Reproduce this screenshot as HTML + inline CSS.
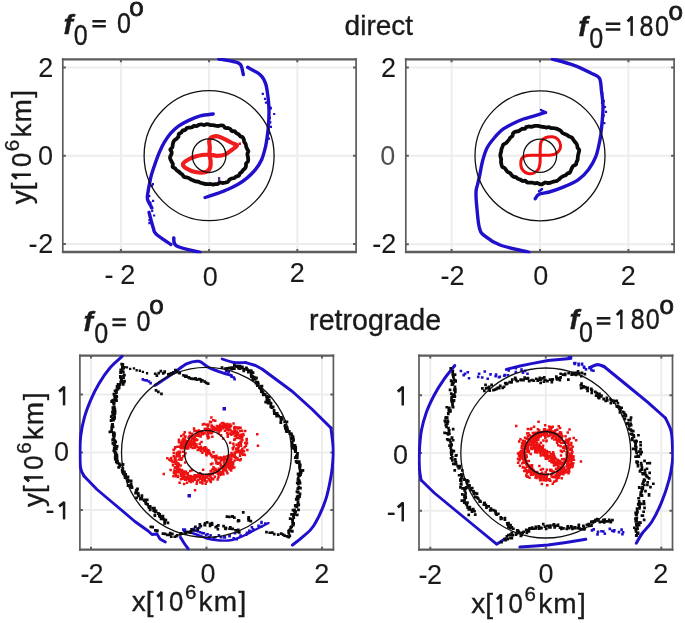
<!DOCTYPE html>
<html><head><meta charset="utf-8"><style>html,body{margin:0;padding:0;background:#fff;}svg{display:block;filter:blur(0.4px);}</style></head>
<body>
<svg width="685" height="623" viewBox="0 0 685 623">
<rect width="685" height="623" fill="#fff"/>
<path d="M120.9,59.3V252.0M209.1,59.3V252.0M297.3,59.3V252.0M62.8,243.9H356.1M62.8,155.7H356.1M62.8,67.5H356.1" stroke="#ededed" stroke-width="2" fill="none"/>
<path d="M62.8,58.2V253.1M356.1,58.2V253.1" stroke="#5c5c5c" stroke-width="1.7" fill="none"/>
<path d="M61.9,59.3H357.0M61.9,252.0H357.0" stroke="#5c5c5c" stroke-width="2.3" fill="none"/>
<path d="M120.9,59.3v3M120.9,252.0v-3M209.1,59.3v3M209.1,252.0v-3M297.3,59.3v3M297.3,252.0v-3M62.8,243.9h3M356.1,243.9h-3M62.8,155.7h3M356.1,155.7h-3M62.8,67.5h3M356.1,67.5h-3" stroke="#5c5c5c" stroke-width="2" fill="none"/>
<clipPath id="c0"><rect x="61.6" y="58.1" width="295.7" height="195.1"/></clipPath>
<g clip-path="url(#c0)">
<path d="M218.8,59.0 C221.2,59.4 229.6,60.6 233.2,61.5 C236.8,62.4 238.8,62.4 240.5,64.6 C242.2,66.8 242.8,72.8 243.3,74.5" fill="none" stroke="#2010cc" stroke-width="3.4" stroke-linejoin="round" stroke-linecap="round" />
<path d="M247.7,67.3 C249.9,68.6 257.7,72.4 260.7,75.2 C263.7,78.0 264.5,80.3 265.7,83.9 C266.9,87.5 267.4,92.6 268.0,96.9 C268.6,101.2 268.9,105.3 269.0,110.0 C269.1,114.7 268.8,120.8 268.5,125.0 C268.2,129.2 267.9,131.7 267.4,135.3 C266.9,138.9 266.5,142.7 265.5,146.8 C264.5,150.9 263.3,155.8 261.6,159.7 C259.9,163.5 257.6,166.9 255.2,169.9 C252.8,172.9 250.3,175.2 247.5,177.6 C244.7,179.9 241.7,182.1 238.5,184.0 C235.3,185.9 231.8,187.6 228.2,189.2 C224.6,190.8 220.5,192.3 216.7,193.7 C212.8,195.1 207.0,196.9 205.1,197.5" fill="none" stroke="#2010cc" stroke-width="3.4" stroke-linejoin="round" stroke-linecap="round" />
<path d="M213.2,114.0 C211.0,114.3 204.4,114.8 200.3,115.9 C196.2,117.0 192.4,118.7 188.8,120.4 C185.2,122.1 181.5,124.1 178.5,126.2 C175.5,128.3 173.2,130.5 170.8,133.2 C168.5,135.9 166.3,139.0 164.4,142.2 C162.5,145.4 160.8,149.1 159.3,152.5 C157.8,155.9 156.7,159.2 155.4,162.8 C154.1,166.4 152.6,170.9 151.6,174.3 C150.6,177.7 150.2,180.4 149.6,183.3 C149.0,186.2 148.3,189.3 148.0,192.0 C147.7,194.7 146.8,196.5 147.5,199.2 C148.2,201.9 151.2,206.5 151.9,208.0" fill="none" stroke="#2010cc" stroke-width="3.4" stroke-linejoin="round" stroke-linecap="round" />
<path d="M149.0,212.3 C149.7,215.0 152.2,224.8 153.4,228.4 C154.6,232.1 153.4,231.5 156.3,234.2 C159.2,236.9 168.5,242.8 170.9,244.5" fill="none" stroke="#2010cc" stroke-width="3.4" stroke-linejoin="round" stroke-linecap="round" />
<path d="M173.8,237.9 C174.3,239.2 172.3,243.5 176.7,245.9 C181.1,248.3 196.1,251.4 200.0,252.5" fill="none" stroke="#2010cc" stroke-width="3.4" stroke-linejoin="round" stroke-linecap="round" />
<path d="M261.7,92.7h2.2v2.2h-2.2zM263.9,97.7h2.2v2.2h-2.2zM264.9,101.5h2.2v2.2h-2.2zM269.1,106.2h2.2v2.2h-2.2zM269.8,107.2h2.2v2.2h-2.2zM273.1,112.9h2.2v2.2h-2.2zM268.8,116.8h2.2v2.2h-2.2zM269.2,121.3h2.2v2.2h-2.2zM269.8,125.7h2.2v2.2h-2.2zM266.9,130.4h2.2v2.2h-2.2zM268.1,132.0h2.2v2.2h-2.2zM267.8,137.6h2.2v2.2h-2.2z" fill="#2010cc"/>
<path d="M149.7,177.0h2.2v2.2h-2.2zM151.8,183.0h2.2v2.2h-2.2zM150.7,184.7h2.2v2.2h-2.2zM147.3,190.0h2.2v2.2h-2.2zM148.2,195.1h2.2v2.2h-2.2zM152.0,199.7h2.2v2.2h-2.2zM149.3,201.5h2.2v2.2h-2.2zM149.9,206.5h2.2v2.2h-2.2zM151.1,209.8h2.2v2.2h-2.2zM153.0,214.4h2.2v2.2h-2.2zM148.4,219.1h2.2v2.2h-2.2zM148.3,222.1h2.2v2.2h-2.2z" fill="#2010cc"/>
<path d="M208.2,124.4 C208.9,124.6 209.9,125.0 210.7,125.1 C211.5,125.2 212.4,125.0 213.2,125.1 C214.0,125.2 214.8,125.6 215.6,125.7 C216.5,125.9 217.3,126.1 218.1,126.0 C219.0,126.0 219.9,125.4 220.7,125.4 C221.6,125.3 222.6,125.3 223.3,125.7 C224.1,126.1 224.4,127.5 225.2,127.9 C225.9,128.3 227.0,127.9 227.8,128.0 C228.7,128.2 229.5,128.5 230.2,129.0 C230.8,129.5 231.2,130.7 232.0,131.1 C232.7,131.5 233.9,131.0 234.6,131.3 C235.3,131.6 235.7,132.6 236.4,133.1 C237.0,133.6 237.9,133.8 238.6,134.3 C239.2,134.8 239.6,135.7 240.2,136.2 C240.9,136.7 242.0,136.7 242.6,137.3 C243.2,137.8 243.5,138.8 243.8,139.5 C244.1,140.3 244.0,141.2 244.3,142.0 C244.6,142.7 245.3,143.4 245.7,144.1 C246.0,144.9 245.9,145.8 246.2,146.6 C246.4,147.4 246.8,148.1 247.1,148.9 C247.5,149.7 248.3,150.4 248.4,151.2 C248.4,152.1 247.5,153.0 247.4,153.8 C247.3,154.7 247.6,155.5 247.8,156.3 C247.9,157.1 248.1,158.0 248.2,158.8 C248.2,159.7 248.3,160.6 248.0,161.4 C247.6,162.2 246.4,162.7 246.1,163.5 C245.7,164.2 246.2,165.2 246.0,166.0 C245.9,166.8 245.5,167.6 245.1,168.3 C244.6,168.9 243.8,169.3 243.2,169.9 C242.7,170.5 242.3,171.3 241.8,171.9 C241.2,172.5 240.3,172.9 239.8,173.5 C239.3,174.2 239.3,175.4 238.7,175.9 C238.1,176.4 236.9,176.1 236.2,176.5 C235.4,176.8 234.9,177.8 234.2,178.1 C233.4,178.5 232.4,178.3 231.6,178.5 C230.8,178.8 230.0,179.2 229.4,179.7 C228.7,180.3 228.4,181.5 227.7,182.0 C226.9,182.5 226.0,182.4 225.2,182.6 C224.3,182.8 223.5,183.1 222.7,183.0 C221.8,183.0 220.8,182.3 220.0,182.5 C219.2,182.6 218.5,183.6 217.7,183.9 C217.0,184.1 216.1,184.0 215.3,184.1 C214.4,184.2 213.6,184.5 212.8,184.5 C211.9,184.5 211.1,184.1 210.3,184.0 C209.5,184.0 208.6,184.1 207.8,184.1 C206.9,184.1 206.1,184.1 205.3,184.0 C204.5,183.9 203.7,183.5 202.9,183.3 C202.0,183.1 201.2,183.0 200.4,182.7 C199.6,182.4 198.9,181.9 198.1,181.6 C197.3,181.4 196.4,181.6 195.6,181.4 C194.8,181.2 194.1,180.7 193.3,180.4 C192.6,180.1 191.8,179.9 191.1,179.6 C190.4,179.2 189.8,178.5 189.0,178.2 C188.3,177.8 187.5,177.6 186.6,177.4 C185.8,177.2 184.7,177.3 184.0,176.9 C183.3,176.4 183.0,175.3 182.4,174.7 C181.8,174.1 181.1,173.8 180.5,173.3 C179.9,172.7 179.4,172.1 178.7,171.6 C178.1,171.1 177.2,170.8 176.6,170.2 C176.0,169.7 175.6,168.8 175.0,168.3 C174.3,167.7 173.0,167.6 172.6,166.9 C172.3,166.3 173.0,165.0 172.9,164.2 C172.7,163.3 172.1,162.6 171.8,161.9 C171.4,161.1 170.9,160.4 170.6,159.6 C170.3,158.8 169.8,157.9 170.0,157.1 C170.1,156.3 171.0,155.4 171.3,154.6 C171.6,153.8 171.8,153.0 171.7,152.1 C171.5,151.2 170.2,150.2 170.3,149.4 C170.5,148.7 171.9,148.2 172.3,147.4 C172.7,146.7 172.6,145.7 172.7,144.9 C172.9,144.0 173.0,143.2 173.3,142.4 C173.6,141.6 174.0,140.8 174.6,140.2 C175.1,139.6 176.1,139.2 176.7,138.6 C177.3,138.1 178.0,137.5 178.4,136.8 C178.7,136.0 178.4,134.6 178.9,133.9 C179.3,133.3 180.6,133.3 181.2,132.7 C181.8,132.1 182.0,131.0 182.7,130.5 C183.4,130.1 184.6,130.4 185.3,129.9 C186.1,129.5 186.3,128.3 187.0,127.9 C187.7,127.6 188.7,127.7 189.5,127.6 C190.3,127.5 191.1,127.5 191.9,127.2 C192.7,126.9 193.4,126.1 194.2,125.9 C195.0,125.7 195.9,126.3 196.7,126.1 C197.5,125.9 198.3,125.1 199.1,124.8 C199.9,124.5 200.7,124.3 201.6,124.4 C202.4,124.4 203.3,125.1 204.1,125.1 C204.9,125.1 205.9,124.2 206.6,124.1 C207.3,124.0 207.5,124.2 208.2,124.4Z" fill="none" stroke="#0a0a0a" stroke-width="3.8" stroke-linejoin="round" stroke-linecap="round" />
<path d="M209.5,154.5 C212.0,154.6 214.4,155.8 217.0,155.8 C219.6,155.8 222.5,155.6 225.0,154.6 C227.5,153.6 230.0,151.3 232.0,149.8 C234.0,148.3 237.2,146.6 237.0,145.4 C236.8,144.2 233.3,143.7 231.0,142.5 C228.7,141.3 225.5,139.4 223.0,138.3 C220.5,137.2 218.2,136.0 216.0,136.2 C213.8,136.4 210.5,137.7 209.5,139.5 C208.5,141.3 209.8,144.5 209.8,147.0 C209.8,149.5 209.4,152.2 209.5,154.5 C209.6,156.8 210.5,158.8 210.6,161.0 C210.7,163.2 210.8,166.1 210.0,167.9 C209.2,169.7 208.1,171.3 205.7,172.0 C203.3,172.7 198.7,172.6 195.4,172.0 C192.1,171.4 188.1,169.6 186.0,168.3 C183.9,167.0 182.7,165.4 183.0,164.0 C183.3,162.6 185.9,160.9 188.0,159.7 C190.1,158.5 193.1,157.4 195.4,156.6 C197.7,155.8 199.7,155.3 202.0,155.0 C204.3,154.7 207.0,154.4 209.5,154.5Z" fill="none" stroke="#ee1111" stroke-width="4.2" stroke-linejoin="round" stroke-linecap="round" opacity="0.95"/>
<rect x="238.5" y="142.5" width="2.5" height="2.5" fill="#ee1111"/>
<rect x="218" y="177" width="2.2" height="4" fill="#5a2a9a"/>
<circle cx="209.1" cy="155.7" r="65.0" fill="none" stroke="#111" stroke-width="1.3"/>
<circle cx="209.1" cy="155.7" r="16.8" fill="none" stroke="#111" stroke-width="1.3"/>
</g>
<path d="M451.6,59.3V252.0M540.0,59.3V252.0M628.4,59.3V252.0M405.8,244.2H674.1M405.8,155.8H674.1M405.8,67.4H674.1" stroke="#ededed" stroke-width="2" fill="none"/>
<path d="M405.8,58.2V253.1M674.1,58.2V253.1" stroke="#5c5c5c" stroke-width="1.7" fill="none"/>
<path d="M404.9,59.3H675.0M404.9,252.0H675.0" stroke="#5c5c5c" stroke-width="2.3" fill="none"/>
<path d="M451.6,59.3v3M451.6,252.0v-3M540.0,59.3v3M540.0,252.0v-3M628.4,59.3v3M628.4,252.0v-3M405.8,244.2h3M674.1,244.2h-3M405.8,155.8h3M674.1,155.8h-3M405.8,67.4h3M674.1,67.4h-3" stroke="#5c5c5c" stroke-width="2" fill="none"/>
<clipPath id="c1"><rect x="404.6" y="58.1" width="270.7" height="195.1"/></clipPath>
<g clip-path="url(#c1)">
<path d="M552.4,59.0 C555.9,60.0 567.0,62.8 573.4,65.1 C579.8,67.4 586.4,70.8 590.7,73.0 C595.0,75.2 597.6,75.1 599.4,78.1 C601.2,81.1 600.9,86.5 601.5,91.1 C602.1,95.7 602.9,100.8 603.0,105.6 C603.1,110.4 602.7,115.2 602.3,120.0 C601.9,124.8 601.2,130.9 600.8,134.5 C600.3,138.1 600.4,138.1 599.6,141.7 C598.8,145.3 597.7,151.7 595.9,156.3 C594.1,160.9 591.5,165.5 588.6,169.4 C585.7,173.3 582.5,176.7 578.4,179.6 C574.3,182.5 568.7,184.8 563.8,186.9 C558.9,189.0 553.3,190.8 549.2,192.0 C545.1,193.2 541.3,193.1 539.0,194.2 C536.7,195.3 535.9,197.9 535.3,198.6" fill="none" stroke="#2010cc" stroke-width="3.4" stroke-linejoin="round" stroke-linecap="round" />
<path d="M545.3,112.4 C543.3,113.0 537.2,115.0 533.6,116.1 C530.0,117.2 526.8,117.8 523.4,119.0 C520.0,120.2 516.6,121.7 513.2,123.4 C509.8,125.1 506.2,126.8 503.0,129.2 C499.8,131.6 496.9,134.8 494.2,138.0 C491.5,141.2 488.8,144.3 486.9,148.2 C484.9,152.1 483.7,156.7 482.5,161.3 C481.3,165.9 480.4,172.1 479.6,175.9 C478.8,179.7 478.3,181.3 477.7,184.0 C477.1,186.7 476.1,188.0 476.0,192.0 C475.9,196.0 476.3,202.1 476.9,208.0 C477.4,213.9 478.1,222.8 479.3,227.4 C480.5,232.0 480.5,232.5 484.0,235.4 C487.5,238.3 492.6,242.2 500.1,245.0 C507.6,247.8 524.2,251.1 529.0,252.3" fill="none" stroke="#2010cc" stroke-width="3.4" stroke-linejoin="round" stroke-linecap="round" />
<path d="M539.0,191.3 C539.5,190.9 541.5,189.4 542.0,189.0" fill="none" stroke="#2010cc" stroke-width="2.5" stroke-linejoin="round" stroke-linecap="round" />
<path d="M541.0,110.0 C541.8,110.5 545.2,112.3 546.0,112.8" fill="none" stroke="#2010cc" stroke-width="2.5" stroke-linejoin="round" stroke-linecap="round" />
<path d="M601.2,92.2h2.2v2.2h-2.2zM602.7,100.1h2.2v2.2h-2.2zM600.9,101.8h2.2v2.2h-2.2zM603.9,105.9h2.2v2.2h-2.2zM604.9,110.8h2.2v2.2h-2.2zM602.6,114.2h2.2v2.2h-2.2zM602.1,115.2h2.2v2.2h-2.2zM603.2,122.1h2.2v2.2h-2.2z" fill="#2010cc"/>
<path d="M526.4,127.0 C527.1,126.6 528.1,126.6 528.9,126.5 C529.8,126.5 530.6,126.8 531.5,126.8 C532.3,126.7 533.1,126.3 533.9,126.1 C534.7,126.0 535.6,125.8 536.4,125.8 C537.2,125.7 538.1,125.9 538.9,126.0 C539.8,126.2 540.6,126.6 541.4,126.7 C542.2,126.9 543.0,126.9 543.8,127.0 C544.6,127.1 545.4,127.4 546.2,127.5 C547.1,127.5 548.0,127.0 548.9,127.1 C549.7,127.2 550.4,127.9 551.2,128.1 C552.0,128.2 552.9,128.1 553.8,128.2 C554.6,128.2 555.5,128.4 556.3,128.6 C557.1,128.9 557.9,129.3 558.6,129.6 C559.4,130.0 560.1,130.3 560.8,130.9 C561.4,131.5 561.8,132.5 562.5,133.0 C563.2,133.6 564.1,133.7 564.8,134.0 C565.6,134.4 566.3,134.7 567.1,135.1 C567.8,135.5 568.3,136.0 569.1,136.4 C569.8,136.7 570.8,136.9 571.5,137.4 C572.2,137.9 572.6,138.6 573.1,139.3 C573.6,140.0 574.0,140.8 574.5,141.4 C575.0,142.1 575.7,142.6 576.2,143.3 C576.6,143.9 577.0,144.5 577.2,145.3 C577.4,146.0 577.2,146.9 577.5,147.6 C577.9,148.4 579.0,149.1 579.2,149.9 C579.4,150.7 578.9,151.7 578.7,152.5 C578.6,153.3 578.4,154.0 578.2,154.8 C578.0,155.6 577.9,156.5 577.8,157.3 C577.7,158.1 577.8,159.0 577.6,159.8 C577.4,160.6 576.7,161.3 576.5,162.1 C576.2,162.9 576.4,164.0 575.9,164.6 C575.3,165.3 573.9,165.4 573.3,165.9 C572.6,166.5 572.3,167.3 571.9,168.0 C571.5,168.8 571.2,169.6 570.9,170.4 C570.5,171.1 570.3,172.1 569.7,172.7 C569.1,173.2 568.0,173.1 567.3,173.6 C566.6,174.0 566.2,174.9 565.5,175.3 C564.8,175.7 563.8,175.8 563.1,176.2 C562.3,176.5 561.6,177.0 561.0,177.5 C560.3,178.0 559.8,178.8 559.1,179.3 C558.5,179.8 557.8,180.4 557.1,180.7 C556.3,181.1 555.5,181.2 554.7,181.4 C553.9,181.6 553.1,181.8 552.3,182.0 C551.5,182.3 550.7,182.7 549.9,182.8 C549.1,183.0 548.2,183.0 547.4,183.0 C546.5,182.9 545.6,182.3 544.8,182.5 C544.0,182.7 543.3,183.9 542.4,184.1 C541.6,184.4 540.7,184.4 539.9,184.2 C539.0,184.0 538.3,183.2 537.4,183.0 C536.6,182.9 535.7,183.4 534.9,183.4 C534.1,183.3 533.3,182.8 532.4,182.7 C531.6,182.6 530.8,182.6 529.9,182.6 C529.1,182.5 528.2,182.8 527.4,182.5 C526.6,182.2 526.2,181.1 525.4,180.8 C524.6,180.6 523.4,181.2 522.6,181.0 C521.8,180.8 521.2,180.0 520.5,179.6 C519.7,179.3 518.8,179.3 518.1,178.9 C517.3,178.5 516.8,177.6 516.1,177.3 C515.3,176.9 514.3,177.1 513.5,176.7 C512.8,176.4 512.2,175.7 511.6,175.1 C511.0,174.5 510.7,173.5 510.1,173.0 C509.4,172.5 508.4,172.4 507.7,171.9 C507.1,171.4 506.6,170.6 506.1,170.0 C505.5,169.3 505.2,168.6 504.6,168.0 C503.9,167.5 502.7,167.3 502.2,166.7 C501.7,166.1 501.6,165.1 501.4,164.2 C501.2,163.4 501.0,162.6 501.0,161.8 C501.0,160.9 501.2,160.0 501.2,159.1 C501.1,158.3 500.6,157.6 500.5,156.8 C500.4,156.0 500.3,155.1 500.4,154.3 C500.5,153.5 500.9,152.7 501.1,151.9 C501.3,151.1 501.2,150.2 501.4,149.4 C501.6,148.6 502.0,147.8 502.4,147.0 C502.7,146.2 502.8,145.3 503.4,144.6 C503.9,144.0 505.0,143.8 505.7,143.3 C506.4,142.7 506.9,142.1 507.5,141.5 C508.0,140.8 508.5,140.2 509.0,139.6 C509.5,138.9 509.9,138.1 510.4,137.5 C511.0,136.9 512.0,136.7 512.4,136.0 C512.9,135.3 512.7,133.9 513.1,133.2 C513.6,132.4 514.5,132.0 515.2,131.7 C516.0,131.4 517.1,131.6 517.9,131.3 C518.7,131.1 519.3,130.6 520.0,130.2 C520.8,129.8 521.4,129.1 522.2,128.8 C523.0,128.6 524.1,129.1 524.8,128.8 C525.5,128.5 525.7,127.4 526.4,127.0Z" fill="none" stroke="#0a0a0a" stroke-width="3.8" stroke-linejoin="round" stroke-linecap="round" />
<path d="M532.0,155.2 C534.5,155.1 537.5,155.2 540.2,155.2 C542.9,155.2 545.5,155.5 548.0,155.3 C550.5,155.1 553.1,155.1 555.0,154.2 C556.9,153.3 558.6,151.5 559.5,150.0 C560.4,148.5 560.8,146.8 560.5,145.0 C560.2,143.2 559.3,140.9 558.0,139.5 C556.7,138.1 554.5,137.1 552.5,136.8 C550.5,136.5 547.8,136.8 546.0,137.5 C544.2,138.2 542.5,139.4 541.5,141.0 C540.5,142.6 540.5,144.6 540.3,147.0 C540.1,149.4 540.2,152.5 540.2,155.2 C540.2,157.9 540.3,160.7 540.0,163.0 C539.7,165.3 539.5,167.3 538.5,169.0 C537.5,170.7 535.8,172.2 534.0,173.0 C532.2,173.8 529.8,173.9 528.0,173.5 C526.2,173.1 524.2,171.9 523.0,170.5 C521.8,169.1 521.0,166.9 520.8,165.0 C520.5,163.1 520.8,160.5 521.5,159.0 C522.2,157.5 523.2,156.6 525.0,156.0 C526.8,155.4 529.5,155.3 532.0,155.2Z" fill="none" stroke="#ee1111" stroke-width="3.0" stroke-linejoin="round" stroke-linecap="round" />
<circle cx="540.0" cy="155.8" r="65.0" fill="none" stroke="#111" stroke-width="1.3"/>
<circle cx="540.0" cy="155.8" r="16.6" fill="none" stroke="#111" stroke-width="1.3"/>
</g>
<path d="M91.0,355.6V549.7M206.5,355.6V549.7M322.0,355.6V549.7M79.9,510.1H333.4M79.9,452.4H333.4M79.9,394.6H333.4" stroke="#ededed" stroke-width="2" fill="none"/>
<path d="M79.9,354.5V550.8M333.4,354.5V550.8" stroke="#5c5c5c" stroke-width="1.7" fill="none"/>
<path d="M79.1,355.6H334.2M79.1,549.7H334.2" stroke="#5c5c5c" stroke-width="2.3" fill="none"/>
<path d="M91.0,355.6v3M91.0,549.7v-3M206.5,355.6v3M206.5,549.7v-3M322.0,355.6v3M322.0,549.7v-3M79.9,510.1h3M333.4,510.1h-3M79.9,452.4h3M333.4,452.4h-3M79.9,394.6h3M333.4,394.6h-3" stroke="#5c5c5c" stroke-width="2" fill="none"/>
<clipPath id="c2"><rect x="78.7" y="354.4" width="255.9" height="196.5"/></clipPath>
<g clip-path="url(#c2)">
<path d="M122.1,356.4 C120.1,358.3 114.0,363.1 110.1,367.7 C106.2,372.2 102.1,378.3 98.9,383.7 C95.7,389.1 93.2,394.2 90.8,399.8 C88.4,405.4 86.1,411.2 84.4,417.4 C82.7,423.5 81.3,430.9 80.6,436.7 C79.9,442.5 80.0,446.8 80.0,452.0 C80.0,457.2 79.9,464.0 80.6,468.0 C81.3,472.0 83.4,474.7 84.0,476.0" fill="none" stroke="#2010cc" stroke-width="3.0" stroke-linejoin="round" stroke-linecap="round" />
<path d="M84.0,476.0 L97.0,489.5 L116.0,505.5 L134.9,521.5 L148.2,531.0 L152.0,534.5 L157.0,534.0 L160.0,539.0 L165.3,542.0" fill="none" stroke="#2010cc" stroke-width="2.9" stroke-linejoin="round" stroke-linecap="round"/>
<path d="M180.5,537.3 C181.1,538.2 182.7,541.1 184.0,543.0 C185.3,544.9 187.4,547.8 188.1,548.7" fill="none" stroke="#2010cc" stroke-width="3.0" stroke-linejoin="round" stroke-linecap="round" />
<path d="M245.8,362.6 L255.5,365.5 L262.0,369.0 L292.4,391.5 L311.8,409.0 L331.0,428.0" fill="none" stroke="#2010cc" stroke-width="3.0" stroke-linejoin="round" stroke-linecap="round"/>
<path d="M331.0,428.0 C331.3,430.8 332.6,440.3 333.0,445.0 C333.4,449.7 333.5,451.0 333.2,456.0 C332.9,461.0 332.5,467.8 331.2,475.2 C329.9,482.6 328.3,492.1 325.4,500.5 C322.5,508.9 317.6,519.6 313.7,525.7 C309.8,531.9 305.7,534.2 302.1,537.4 C298.6,540.6 294.0,543.8 292.4,545.1" fill="none" stroke="#2010cc" stroke-width="3.0" stroke-linejoin="round" stroke-linecap="round" />
<path d="M155.0,385.3 C156.6,384.2 161.5,381.0 164.7,378.9 C167.9,376.8 170.6,375.0 174.3,372.5 C178.0,370.0 183.0,365.6 187.1,363.7 C191.2,361.8 195.3,360.7 198.8,361.3 C202.3,361.9 204.6,365.4 208.1,367.2 C211.6,369.0 215.9,370.5 219.8,371.9 C223.7,373.3 229.6,374.8 231.5,375.4" fill="none" stroke="#2010cc" stroke-width="3.0" stroke-linejoin="round" stroke-linecap="round" />
<path d="M222.1,359.0 C224.1,359.6 229.9,361.9 233.8,362.5 C237.7,363.1 243.6,362.5 245.5,362.5" fill="none" stroke="#2010cc" stroke-width="2.8" stroke-linejoin="round" stroke-linecap="round" />
<path d="M141.5,378.1h2.6v2.6h-2.6zM143.4,378.9h2.6v2.6h-2.6zM145.5,379.1h2.6v2.6h-2.6zM147.6,380.2h2.6v2.6h-2.6zM149.3,381.8h2.6v2.6h-2.6z" fill="#2010cc"/>
<path d="M184.0,531.0 C185.8,531.5 191.2,532.8 195.0,534.0 C198.8,535.2 202.8,537.4 207.0,538.5 C211.2,539.6 215.8,540.2 220.0,540.5 C224.2,540.8 228.3,540.7 232.0,540.0 C235.7,539.3 237.9,538.3 242.0,536.5 C246.1,534.7 252.4,531.2 256.8,529.0 C261.2,526.8 266.6,524.0 268.5,523.0" fill="none" stroke="#2010cc" stroke-width="2.4" stroke-linejoin="round" stroke-linecap="round" />
<path d="M183.0,529.2h2.6v2.6h-2.6zM182.0,528.2h2.6v2.6h-2.6zM183.6,528.3h2.6v2.6h-2.6zM192.7,527.6h2.6v2.6h-2.6zM194.4,529.3h2.6v2.6h-2.6zM196.4,529.9h2.6v2.6h-2.6zM198.0,526.3h2.6v2.6h-2.6zM198.6,531.0h2.6v2.6h-2.6zM200.8,531.8h2.6v2.6h-2.6zM202.5,532.0h2.6v2.6h-2.6zM204.9,533.8h2.6v2.6h-2.6zM207.9,536.1h2.6v2.6h-2.6zM206.2,532.9h2.6v2.6h-2.6zM209.3,533.9h2.6v2.6h-2.6zM212.5,537.1h2.6v2.6h-2.6zM214.0,536.0h2.6v2.6h-2.6zM217.6,533.9h2.6v2.6h-2.6zM219.6,536.0h2.6v2.6h-2.6zM222.7,536.2h2.6v2.6h-2.6zM223.6,536.2h2.6v2.6h-2.6zM228.2,534.9h2.6v2.6h-2.6zM223.3,535.9h2.6v2.6h-2.6zM228.4,534.2h2.6v2.6h-2.6zM232.4,537.0h2.6v2.6h-2.6zM235.4,537.9h2.6v2.6h-2.6zM233.7,531.9h2.6v2.6h-2.6zM239.3,534.3h2.6v2.6h-2.6zM244.9,533.4h2.6v2.6h-2.6zM245.7,531.4h2.6v2.6h-2.6zM248.7,530.3h2.6v2.6h-2.6zM248.0,530.9h2.6v2.6h-2.6zM248.0,529.6h2.6v2.6h-2.6zM251.7,527.9h2.6v2.6h-2.6zM250.6,525.9h2.6v2.6h-2.6zM251.9,528.2h2.6v2.6h-2.6zM257.3,524.5h2.6v2.6h-2.6zM260.2,521.7h2.6v2.6h-2.6zM260.2,520.8h2.6v2.6h-2.6zM260.0,525.4h2.6v2.6h-2.6zM264.0,522.2h2.6v2.6h-2.6z" fill="#2010cc"/>
<path d="M224.8,369.7h2.6v2.6h-2.6zM227.4,370.4h2.6v2.6h-2.6zM232.6,376.2h2.6v2.6h-2.6zM230.3,375.4h2.6v2.6h-2.6zM233.3,377.9h2.6v2.6h-2.6z" fill="#2010cc"/>
<rect x="222.5" y="407" width="3.5" height="3.5" fill="#2010cc"/>
<rect x="187.5" y="494" width="3.5" height="3.5" fill="#2010cc"/>
<path d="M123.4,366.0h2.3v2.3h-2.3zM125.8,366.2h2.3v2.3h-2.3zM129.0,367.8h2.3v2.3h-2.3zM132.8,367.3h2.3v2.3h-2.3zM135.5,369.1h2.3v2.3h-2.3zM138.7,369.6h2.3v2.3h-2.3zM141.7,370.8h2.3v2.3h-2.3zM145.9,372.1h2.3v2.3h-2.3z" fill="#0a0a0a"/>
<path d="M153.9,372.4h2.7v2.7h-2.7zM157.4,371.8h2.7v2.7h-2.7zM155.5,374.3h2.7v2.7h-2.7zM161.9,372.1h2.7v2.7h-2.7zM159.5,369.7h2.7v2.7h-2.7zM163.3,370.7h2.7v2.7h-2.7zM167.0,373.0h2.7v2.7h-2.7zM163.4,370.3h2.7v2.7h-2.7zM170.2,372.1h2.7v2.7h-2.7zM168.7,372.5h2.7v2.7h-2.7zM171.9,370.9h2.7v2.7h-2.7zM174.0,368.8h2.7v2.7h-2.7zM175.7,370.0h2.7v2.7h-2.7zM178.4,371.9h2.7v2.7h-2.7zM177.8,371.5h2.7v2.7h-2.7zM182.1,374.1h2.7v2.7h-2.7zM184.9,375.2h2.7v2.7h-2.7z" fill="#0a0a0a"/>
<path d="M184.0,375.2h2.7v2.7h-2.7zM184.9,374.4h2.7v2.7h-2.7zM187.2,376.1h2.7v2.7h-2.7zM188.3,376.8h2.7v2.7h-2.7zM190.1,377.2h2.7v2.7h-2.7zM191.5,377.5h2.7v2.7h-2.7zM194.1,377.1h2.7v2.7h-2.7zM194.2,377.9h2.7v2.7h-2.7zM195.7,378.2h2.7v2.7h-2.7zM198.0,377.7h2.7v2.7h-2.7zM198.9,378.0h2.7v2.7h-2.7zM199.9,380.0h2.7v2.7h-2.7zM201.0,378.9h2.7v2.7h-2.7zM203.4,380.3h2.7v2.7h-2.7zM204.8,381.5h2.7v2.7h-2.7zM206.8,382.3h2.7v2.7h-2.7z" fill="#0a0a0a"/>
<path d="M121.4,363.1h2.8v2.8h-2.8zM120.3,362.8h2.8v2.8h-2.8zM121.0,365.8h2.8v2.8h-2.8zM119.4,368.6h2.8v2.8h-2.8zM121.0,366.4h2.8v2.8h-2.8zM122.2,366.8h2.8v2.8h-2.8zM121.9,370.6h2.8v2.8h-2.8zM120.7,369.0h2.8v2.8h-2.8zM119.2,371.1h2.8v2.8h-2.8zM123.0,373.8h2.8v2.8h-2.8zM119.2,376.3h2.8v2.8h-2.8zM122.1,376.2h2.8v2.8h-2.8zM122.1,374.8h2.8v2.8h-2.8zM119.0,374.9h2.8v2.8h-2.8zM120.2,378.9h2.8v2.8h-2.8zM122.6,380.6h2.8v2.8h-2.8zM123.1,379.8h2.8v2.8h-2.8zM121.4,381.6h2.8v2.8h-2.8zM119.4,380.5h2.8v2.8h-2.8zM119.9,378.2h2.8v2.8h-2.8zM121.8,383.0h2.8v2.8h-2.8zM118.4,383.1h2.8v2.8h-2.8zM116.7,382.9h2.8v2.8h-2.8zM117.7,385.2h2.8v2.8h-2.8zM115.8,384.9h2.8v2.8h-2.8zM115.7,385.5h2.8v2.8h-2.8zM117.7,386.4h2.8v2.8h-2.8zM113.7,389.4h2.8v2.8h-2.8zM116.5,387.8h2.8v2.8h-2.8zM115.2,388.6h2.8v2.8h-2.8zM115.0,391.1h2.8v2.8h-2.8zM112.5,392.7h2.8v2.8h-2.8zM113.8,394.3h2.8v2.8h-2.8zM113.2,394.6h2.8v2.8h-2.8zM114.7,396.7h2.8v2.8h-2.8zM115.3,395.1h2.8v2.8h-2.8zM113.5,397.3h2.8v2.8h-2.8zM110.3,400.1h2.8v2.8h-2.8zM112.7,398.6h2.8v2.8h-2.8zM111.3,399.0h2.8v2.8h-2.8zM115.1,399.2h2.8v2.8h-2.8zM111.9,401.0h2.8v2.8h-2.8zM112.8,401.7h2.8v2.8h-2.8zM112.4,402.8h2.8v2.8h-2.8zM112.9,405.8h2.8v2.8h-2.8zM111.5,406.3h2.8v2.8h-2.8zM113.4,407.7h2.8v2.8h-2.8zM112.3,407.8h2.8v2.8h-2.8zM111.7,407.4h2.8v2.8h-2.8zM113.7,410.3h2.8v2.8h-2.8zM112.2,412.5h2.8v2.8h-2.8zM111.1,410.6h2.8v2.8h-2.8zM111.3,413.8h2.8v2.8h-2.8zM113.5,412.3h2.8v2.8h-2.8zM112.6,412.9h2.8v2.8h-2.8zM109.9,415.2h2.8v2.8h-2.8zM113.2,415.6h2.8v2.8h-2.8zM111.2,417.2h2.8v2.8h-2.8zM112.9,417.1h2.8v2.8h-2.8zM112.1,418.8h2.8v2.8h-2.8zM109.7,419.1h2.8v2.8h-2.8zM111.2,422.9h2.8v2.8h-2.8zM110.8,423.5h2.8v2.8h-2.8zM111.1,424.1h2.8v2.8h-2.8zM110.4,425.4h2.8v2.8h-2.8zM110.8,424.1h2.8v2.8h-2.8zM111.6,425.5h2.8v2.8h-2.8zM108.5,430.4h2.8v2.8h-2.8zM110.3,427.5h2.8v2.8h-2.8zM112.8,431.8h2.8v2.8h-2.8zM112.0,431.2h2.8v2.8h-2.8zM110.2,430.3h2.8v2.8h-2.8zM111.9,433.9h2.8v2.8h-2.8zM112.5,434.3h2.8v2.8h-2.8zM113.1,433.0h2.8v2.8h-2.8zM112.9,434.4h2.8v2.8h-2.8zM112.4,437.1h2.8v2.8h-2.8zM111.6,438.1h2.8v2.8h-2.8zM111.3,438.7h2.8v2.8h-2.8zM114.3,440.5h2.8v2.8h-2.8zM113.3,439.3h2.8v2.8h-2.8zM113.4,443.2h2.8v2.8h-2.8zM111.5,441.9h2.8v2.8h-2.8zM112.7,443.7h2.8v2.8h-2.8zM115.7,445.0h2.8v2.8h-2.8zM113.9,447.0h2.8v2.8h-2.8zM114.0,445.2h2.8v2.8h-2.8zM112.9,446.9h2.8v2.8h-2.8zM115.0,447.5h2.8v2.8h-2.8zM113.5,448.9h2.8v2.8h-2.8zM113.3,450.8h2.8v2.8h-2.8zM112.5,449.2h2.8v2.8h-2.8zM114.0,453.3h2.8v2.8h-2.8zM114.5,451.5h2.8v2.8h-2.8zM114.6,453.0h2.8v2.8h-2.8zM115.5,453.7h2.8v2.8h-2.8zM113.8,455.7h2.8v2.8h-2.8zM115.6,455.8h2.8v2.8h-2.8zM115.6,457.3h2.8v2.8h-2.8zM113.9,457.8h2.8v2.8h-2.8zM114.9,460.3h2.8v2.8h-2.8zM116.1,459.9h2.8v2.8h-2.8zM115.7,461.5h2.8v2.8h-2.8zM117.7,462.2h2.8v2.8h-2.8zM118.6,463.6h2.8v2.8h-2.8zM118.2,464.1h2.8v2.8h-2.8zM117.3,465.9h2.8v2.8h-2.8zM118.7,464.6h2.8v2.8h-2.8zM121.6,463.1h2.8v2.8h-2.8zM121.4,466.9h2.8v2.8h-2.8zM120.8,468.7h2.8v2.8h-2.8zM123.0,470.4h2.8v2.8h-2.8zM121.1,470.8h2.8v2.8h-2.8zM122.1,472.4h2.8v2.8h-2.8zM124.3,473.4h2.8v2.8h-2.8zM123.3,474.0h2.8v2.8h-2.8zM124.2,472.9h2.8v2.8h-2.8zM123.7,476.1h2.8v2.8h-2.8zM126.0,476.3h2.8v2.8h-2.8zM126.6,475.5h2.8v2.8h-2.8zM126.9,478.9h2.8v2.8h-2.8zM126.4,479.9h2.8v2.8h-2.8zM126.6,479.9h2.8v2.8h-2.8zM126.4,478.8h2.8v2.8h-2.8zM126.7,480.2h2.8v2.8h-2.8zM129.7,479.5h2.8v2.8h-2.8zM126.7,484.1h2.8v2.8h-2.8zM129.7,482.5h2.8v2.8h-2.8zM129.1,485.6h2.8v2.8h-2.8zM129.1,484.8h2.8v2.8h-2.8zM130.2,485.3h2.8v2.8h-2.8zM130.6,486.3h2.8v2.8h-2.8zM136.1,487.6h2.8v2.8h-2.8zM134.9,488.9h2.8v2.8h-2.8zM135.1,488.8h2.8v2.8h-2.8zM134.2,491.6h2.8v2.8h-2.8zM135.3,489.5h2.8v2.8h-2.8zM134.2,491.7h2.8v2.8h-2.8zM136.9,493.0h2.8v2.8h-2.8zM136.7,492.0h2.8v2.8h-2.8zM135.1,496.5h2.8v2.8h-2.8zM137.1,494.6h2.8v2.8h-2.8zM140.5,494.2h2.8v2.8h-2.8zM140.4,496.9h2.8v2.8h-2.8zM140.1,497.7h2.8v2.8h-2.8zM139.0,497.7h2.8v2.8h-2.8zM139.6,496.7h2.8v2.8h-2.8zM143.4,498.5h2.8v2.8h-2.8zM142.8,499.2h2.8v2.8h-2.8zM145.8,498.5h2.8v2.8h-2.8zM143.9,498.5h2.8v2.8h-2.8zM144.1,500.7h2.8v2.8h-2.8zM144.6,502.2h2.8v2.8h-2.8zM145.2,502.4h2.8v2.8h-2.8zM146.2,503.0h2.8v2.8h-2.8zM148.7,505.1h2.8v2.8h-2.8zM147.3,505.4h2.8v2.8h-2.8zM153.0,506.7h2.8v2.8h-2.8zM151.6,506.7h2.8v2.8h-2.8zM148.0,506.1h2.8v2.8h-2.8zM148.8,508.4h2.8v2.8h-2.8zM152.3,509.1h2.8v2.8h-2.8zM152.8,508.1h2.8v2.8h-2.8zM154.3,510.1h2.8v2.8h-2.8zM154.6,509.5h2.8v2.8h-2.8zM153.5,514.1h2.8v2.8h-2.8zM153.7,510.6h2.8v2.8h-2.8zM157.0,512.1h2.8v2.8h-2.8zM158.3,513.2h2.8v2.8h-2.8zM158.2,513.1h2.8v2.8h-2.8zM158.0,514.7h2.8v2.8h-2.8zM159.0,515.3h2.8v2.8h-2.8zM159.7,517.5h2.8v2.8h-2.8zM161.5,514.7h2.8v2.8h-2.8zM161.1,517.3h2.8v2.8h-2.8zM162.4,517.7h2.8v2.8h-2.8zM164.4,518.8h2.8v2.8h-2.8zM163.2,519.4h2.8v2.8h-2.8zM166.5,521.4h2.8v2.8h-2.8zM163.2,521.9h2.8v2.8h-2.8z" fill="#0a0a0a"/>
<path d="M220.6,366.3h2.8v2.8h-2.8zM224.1,367.2h2.8v2.8h-2.8zM225.9,366.9h2.8v2.8h-2.8zM228.1,366.6h2.8v2.8h-2.8zM225.4,367.8h2.8v2.8h-2.8zM230.3,367.7h2.8v2.8h-2.8zM229.5,366.9h2.8v2.8h-2.8zM230.7,366.3h2.8v2.8h-2.8zM231.4,366.3h2.8v2.8h-2.8zM229.2,366.8h2.8v2.8h-2.8zM233.0,367.2h2.8v2.8h-2.8zM233.0,364.1h2.8v2.8h-2.8zM237.1,366.6h2.8v2.8h-2.8zM235.4,365.1h2.8v2.8h-2.8zM235.9,364.7h2.8v2.8h-2.8zM238.2,367.3h2.8v2.8h-2.8zM238.6,364.7h2.8v2.8h-2.8zM240.2,365.7h2.8v2.8h-2.8zM241.0,366.6h2.8v2.8h-2.8zM240.9,365.4h2.8v2.8h-2.8zM242.3,367.8h2.8v2.8h-2.8zM242.4,369.5h2.8v2.8h-2.8zM246.0,368.3h2.8v2.8h-2.8zM245.2,367.7h2.8v2.8h-2.8zM245.0,366.5h2.8v2.8h-2.8zM247.0,370.6h2.8v2.8h-2.8zM249.5,369.2h2.8v2.8h-2.8zM248.5,369.3h2.8v2.8h-2.8zM250.0,369.8h2.8v2.8h-2.8zM249.9,372.1h2.8v2.8h-2.8zM251.6,371.2h2.8v2.8h-2.8zM249.8,373.5h2.8v2.8h-2.8zM250.0,375.3h2.8v2.8h-2.8zM252.7,375.7h2.8v2.8h-2.8zM252.0,375.7h2.8v2.8h-2.8zM251.0,374.7h2.8v2.8h-2.8zM255.0,376.6h2.8v2.8h-2.8zM251.2,378.3h2.8v2.8h-2.8zM253.7,378.0h2.8v2.8h-2.8zM254.6,381.7h2.8v2.8h-2.8zM256.3,380.8h2.8v2.8h-2.8zM254.7,381.1h2.8v2.8h-2.8zM255.9,384.1h2.8v2.8h-2.8zM259.7,384.9h2.8v2.8h-2.8zM256.9,382.2h2.8v2.8h-2.8zM260.5,384.7h2.8v2.8h-2.8zM258.1,386.3h2.8v2.8h-2.8zM259.6,386.7h2.8v2.8h-2.8zM259.3,387.4h2.8v2.8h-2.8zM260.8,388.6h2.8v2.8h-2.8zM260.0,390.3h2.8v2.8h-2.8zM261.4,390.8h2.8v2.8h-2.8zM260.8,389.6h2.8v2.8h-2.8zM261.9,393.5h2.8v2.8h-2.8zM261.7,390.9h2.8v2.8h-2.8zM263.8,393.1h2.8v2.8h-2.8zM265.5,395.4h2.8v2.8h-2.8zM265.2,395.1h2.8v2.8h-2.8zM267.5,395.4h2.8v2.8h-2.8zM265.5,398.3h2.8v2.8h-2.8zM265.8,399.4h2.8v2.8h-2.8zM266.0,398.3h2.8v2.8h-2.8zM264.3,400.7h2.8v2.8h-2.8zM267.8,398.8h2.8v2.8h-2.8zM266.6,401.7h2.8v2.8h-2.8zM268.7,401.5h2.8v2.8h-2.8zM269.6,402.1h2.8v2.8h-2.8zM269.4,404.6h2.8v2.8h-2.8zM269.5,405.3h2.8v2.8h-2.8zM271.7,405.4h2.8v2.8h-2.8zM271.3,405.7h2.8v2.8h-2.8zM270.3,406.1h2.8v2.8h-2.8zM271.5,405.8h2.8v2.8h-2.8zM272.7,409.1h2.8v2.8h-2.8zM272.9,411.7h2.8v2.8h-2.8zM273.0,412.3h2.8v2.8h-2.8zM275.7,413.5h2.8v2.8h-2.8zM275.7,412.1h2.8v2.8h-2.8zM276.3,414.0h2.8v2.8h-2.8zM275.2,413.7h2.8v2.8h-2.8zM277.2,414.8h2.8v2.8h-2.8zM275.3,414.6h2.8v2.8h-2.8zM279.3,415.9h2.8v2.8h-2.8zM280.0,416.0h2.8v2.8h-2.8zM279.6,417.9h2.8v2.8h-2.8zM279.6,418.2h2.8v2.8h-2.8zM280.9,417.7h2.8v2.8h-2.8zM279.4,421.1h2.8v2.8h-2.8zM283.3,420.4h2.8v2.8h-2.8zM285.5,420.4h2.8v2.8h-2.8zM283.9,423.9h2.8v2.8h-2.8zM283.5,424.7h2.8v2.8h-2.8zM284.0,427.0h2.8v2.8h-2.8zM285.5,426.3h2.8v2.8h-2.8zM285.5,426.5h2.8v2.8h-2.8zM284.7,426.0h2.8v2.8h-2.8zM285.7,429.0h2.8v2.8h-2.8zM284.9,429.6h2.8v2.8h-2.8zM287.8,430.1h2.8v2.8h-2.8zM285.5,430.3h2.8v2.8h-2.8zM289.8,432.2h2.8v2.8h-2.8zM286.3,429.7h2.8v2.8h-2.8zM288.5,432.3h2.8v2.8h-2.8zM290.3,433.4h2.8v2.8h-2.8zM290.9,435.1h2.8v2.8h-2.8zM291.6,435.6h2.8v2.8h-2.8zM290.0,437.3h2.8v2.8h-2.8zM292.0,437.8h2.8v2.8h-2.8zM290.8,441.5h2.8v2.8h-2.8zM292.1,438.9h2.8v2.8h-2.8zM290.7,440.6h2.8v2.8h-2.8zM290.7,444.6h2.8v2.8h-2.8zM290.7,443.7h2.8v2.8h-2.8zM292.6,443.9h2.8v2.8h-2.8zM293.6,444.0h2.8v2.8h-2.8zM291.4,446.7h2.8v2.8h-2.8zM294.3,445.9h2.8v2.8h-2.8zM294.3,447.6h2.8v2.8h-2.8zM293.1,447.4h2.8v2.8h-2.8zM294.2,449.4h2.8v2.8h-2.8zM293.9,449.6h2.8v2.8h-2.8zM293.9,450.2h2.8v2.8h-2.8zM296.1,451.9h2.8v2.8h-2.8zM295.9,454.5h2.8v2.8h-2.8zM295.0,454.4h2.8v2.8h-2.8zM293.9,456.3h2.8v2.8h-2.8zM295.1,455.2h2.8v2.8h-2.8zM295.8,456.4h2.8v2.8h-2.8zM294.7,459.9h2.8v2.8h-2.8zM296.0,460.5h2.8v2.8h-2.8zM295.6,461.1h2.8v2.8h-2.8zM297.8,460.2h2.8v2.8h-2.8zM297.9,461.9h2.8v2.8h-2.8zM298.2,464.2h2.8v2.8h-2.8zM298.8,463.5h2.8v2.8h-2.8zM298.7,464.8h2.8v2.8h-2.8zM298.1,465.5h2.8v2.8h-2.8zM298.4,467.1h2.8v2.8h-2.8zM301.5,468.9h2.8v2.8h-2.8zM300.7,469.3h2.8v2.8h-2.8zM298.8,469.6h2.8v2.8h-2.8zM296.7,472.6h2.8v2.8h-2.8zM299.2,471.6h2.8v2.8h-2.8zM299.7,470.9h2.8v2.8h-2.8zM298.4,474.0h2.8v2.8h-2.8zM299.1,473.2h2.8v2.8h-2.8zM297.4,474.5h2.8v2.8h-2.8zM297.3,478.9h2.8v2.8h-2.8zM296.8,477.2h2.8v2.8h-2.8zM297.6,479.1h2.8v2.8h-2.8zM296.6,478.1h2.8v2.8h-2.8zM295.9,481.5h2.8v2.8h-2.8zM298.6,481.7h2.8v2.8h-2.8zM298.2,480.4h2.8v2.8h-2.8zM297.5,486.1h2.8v2.8h-2.8zM296.9,482.6h2.8v2.8h-2.8zM299.0,486.7h2.8v2.8h-2.8zM297.3,486.8h2.8v2.8h-2.8zM296.4,487.2h2.8v2.8h-2.8zM295.6,490.3h2.8v2.8h-2.8zM296.6,490.5h2.8v2.8h-2.8zM296.1,490.4h2.8v2.8h-2.8zM296.9,490.9h2.8v2.8h-2.8zM298.6,492.4h2.8v2.8h-2.8zM298.1,495.2h2.8v2.8h-2.8zM296.7,494.8h2.8v2.8h-2.8zM296.0,496.1h2.8v2.8h-2.8zM296.9,497.1h2.8v2.8h-2.8zM295.8,495.4h2.8v2.8h-2.8zM296.6,500.3h2.8v2.8h-2.8zM295.5,497.6h2.8v2.8h-2.8zM294.9,497.9h2.8v2.8h-2.8zM296.9,503.6h2.8v2.8h-2.8zM296.4,502.8h2.8v2.8h-2.8zM297.3,503.3h2.8v2.8h-2.8zM293.9,504.1h2.8v2.8h-2.8zM294.1,504.8h2.8v2.8h-2.8zM295.5,505.4h2.8v2.8h-2.8zM297.1,508.5h2.8v2.8h-2.8zM291.6,508.7h2.8v2.8h-2.8zM293.0,509.8h2.8v2.8h-2.8zM293.1,508.5h2.8v2.8h-2.8zM294.2,510.2h2.8v2.8h-2.8zM292.9,512.9h2.8v2.8h-2.8zM290.2,513.0h2.8v2.8h-2.8zM295.8,513.4h2.8v2.8h-2.8zM293.4,512.8h2.8v2.8h-2.8zM292.2,514.5h2.8v2.8h-2.8zM292.0,514.2h2.8v2.8h-2.8zM291.3,518.1h2.8v2.8h-2.8zM288.8,517.3h2.8v2.8h-2.8zM292.3,516.2h2.8v2.8h-2.8zM292.2,521.9h2.8v2.8h-2.8zM291.1,519.6h2.8v2.8h-2.8zM291.3,522.1h2.8v2.8h-2.8zM289.6,525.9h2.8v2.8h-2.8zM289.4,526.0h2.8v2.8h-2.8zM290.2,525.3h2.8v2.8h-2.8zM291.9,523.8h2.8v2.8h-2.8zM290.9,529.8h2.8v2.8h-2.8zM288.7,528.2h2.8v2.8h-2.8zM290.8,530.0h2.8v2.8h-2.8zM288.0,529.2h2.8v2.8h-2.8zM287.4,531.8h2.8v2.8h-2.8zM288.4,534.4h2.8v2.8h-2.8zM287.2,529.7h2.8v2.8h-2.8z" fill="#0a0a0a"/>
<path d="M161.6,532.2h2.7v2.7h-2.7zM163.8,532.6h2.7v2.7h-2.7zM165.9,533.6h2.7v2.7h-2.7zM168.4,533.6h2.7v2.7h-2.7zM168.8,531.7h2.7v2.7h-2.7zM171.0,532.4h2.7v2.7h-2.7zM169.9,535.3h2.7v2.7h-2.7zM173.4,535.4h2.7v2.7h-2.7zM175.1,534.8h2.7v2.7h-2.7zM176.1,533.9h2.7v2.7h-2.7zM179.0,533.0h2.7v2.7h-2.7zM180.4,532.4h2.7v2.7h-2.7zM179.6,532.1h2.7v2.7h-2.7zM184.4,531.4h2.7v2.7h-2.7zM183.5,532.2h2.7v2.7h-2.7zM184.5,531.1h2.7v2.7h-2.7zM187.0,530.7h2.7v2.7h-2.7zM189.2,531.4h2.7v2.7h-2.7zM189.4,529.9h2.7v2.7h-2.7zM190.2,528.0h2.7v2.7h-2.7zM192.1,529.1h2.7v2.7h-2.7zM196.5,528.5h2.7v2.7h-2.7zM194.0,525.6h2.7v2.7h-2.7zM196.2,527.2h2.7v2.7h-2.7zM199.5,524.8h2.7v2.7h-2.7zM198.5,523.1h2.7v2.7h-2.7zM203.7,523.9h2.7v2.7h-2.7zM203.3,523.5h2.7v2.7h-2.7zM203.7,522.0h2.7v2.7h-2.7zM203.7,523.7h2.7v2.7h-2.7zM205.8,521.1h2.7v2.7h-2.7zM208.8,522.4h2.7v2.7h-2.7zM208.7,524.6h2.7v2.7h-2.7zM210.6,521.7h2.7v2.7h-2.7zM210.8,523.2h2.7v2.7h-2.7zM214.4,525.9h2.7v2.7h-2.7zM216.5,527.9h2.7v2.7h-2.7zM215.6,525.0h2.7v2.7h-2.7zM217.0,524.1h2.7v2.7h-2.7zM222.2,524.8h2.7v2.7h-2.7zM224.7,526.8h2.7v2.7h-2.7zM223.9,526.5h2.7v2.7h-2.7zM224.2,527.6h2.7v2.7h-2.7zM229.0,525.9h2.7v2.7h-2.7zM228.2,527.4h2.7v2.7h-2.7zM231.4,527.5h2.7v2.7h-2.7zM230.5,527.5h2.7v2.7h-2.7zM234.2,528.9h2.7v2.7h-2.7zM236.0,529.6h2.7v2.7h-2.7zM236.4,530.5h2.7v2.7h-2.7zM236.9,528.4h2.7v2.7h-2.7zM237.9,531.1h2.7v2.7h-2.7z" fill="#0a0a0a"/>
<path d="M225.6,515.3h2.7v2.7h-2.7zM228.1,515.5h2.7v2.7h-2.7zM231.0,515.0h2.7v2.7h-2.7zM231.3,515.2h2.7v2.7h-2.7zM233.0,516.3h2.7v2.7h-2.7zM237.7,519.4h2.7v2.7h-2.7zM236.7,519.8h2.7v2.7h-2.7zM237.0,519.1h2.7v2.7h-2.7zM241.9,511.1h2.7v2.7h-2.7zM247.1,517.2h2.7v2.7h-2.7zM247.5,517.3h2.7v2.7h-2.7zM247.3,516.0h2.7v2.7h-2.7zM247.3,519.1h2.7v2.7h-2.7zM249.5,519.7h2.7v2.7h-2.7z" fill="#0a0a0a"/>
<path d="M265.1,530.7h2.7v2.7h-2.7zM268.4,531.4h2.7v2.7h-2.7zM271.0,531.2h2.7v2.7h-2.7zM272.9,532.7h2.7v2.7h-2.7zM276.9,533.2h2.7v2.7h-2.7zM279.9,532.3h2.7v2.7h-2.7zM281.7,533.3h2.7v2.7h-2.7zM283.2,534.3h2.7v2.7h-2.7zM285.7,535.0h2.7v2.7h-2.7zM287.4,535.8h2.7v2.7h-2.7z" fill="#0a0a0a"/>
<path d="M154.7,389.1h2.7v2.7h-2.7zM157.0,390.5h2.7v2.7h-2.7zM160.1,392.6h2.7v2.7h-2.7z" fill="#0a0a0a"/>
<path d="M149.5,525.6h2.7v2.7h-2.7zM151.3,525.7h2.7v2.7h-2.7zM154.0,529.0h2.7v2.7h-2.7zM156.0,529.2h2.7v2.7h-2.7zM155.7,529.7h2.7v2.7h-2.7z" fill="#0a0a0a"/>
<path d="M233.1,430.3h2.5v2.5h-2.5zM239.3,426.5h2.5v2.5h-2.5zM236.9,427.2h2.5v2.5h-2.5zM241.1,435.5h2.5v2.5h-2.5zM242.3,433.7h2.5v2.5h-2.5zM239.0,434.4h2.5v2.5h-2.5zM235.4,436.5h2.5v2.5h-2.5zM233.6,434.8h2.5v2.5h-2.5zM240.5,436.8h2.5v2.5h-2.5zM236.7,444.1h2.5v2.5h-2.5zM238.5,435.2h2.5v2.5h-2.5zM238.9,435.5h2.5v2.5h-2.5zM237.2,436.7h2.5v2.5h-2.5zM245.4,437.9h2.5v2.5h-2.5zM239.2,440.8h2.5v2.5h-2.5zM245.5,437.7h2.5v2.5h-2.5zM236.6,447.6h2.5v2.5h-2.5zM233.8,437.9h2.5v2.5h-2.5zM241.1,447.5h2.5v2.5h-2.5zM235.6,431.5h2.5v2.5h-2.5zM241.1,438.7h2.5v2.5h-2.5zM237.6,442.0h2.5v2.5h-2.5zM239.7,442.1h2.5v2.5h-2.5zM237.4,445.5h2.5v2.5h-2.5zM244.0,441.8h2.5v2.5h-2.5zM237.4,444.2h2.5v2.5h-2.5zM240.5,438.8h2.5v2.5h-2.5zM237.3,445.9h2.5v2.5h-2.5zM238.5,441.9h2.5v2.5h-2.5zM239.6,442.9h2.5v2.5h-2.5zM238.8,437.1h2.5v2.5h-2.5zM244.7,444.4h2.5v2.5h-2.5zM235.7,447.7h2.5v2.5h-2.5zM239.7,444.4h2.5v2.5h-2.5zM242.1,452.6h2.5v2.5h-2.5zM240.4,450.3h2.5v2.5h-2.5zM245.8,442.1h2.5v2.5h-2.5zM236.7,448.2h2.5v2.5h-2.5zM232.5,445.3h2.5v2.5h-2.5zM242.7,449.8h2.5v2.5h-2.5zM240.1,440.4h2.5v2.5h-2.5zM246.1,448.7h2.5v2.5h-2.5zM240.5,449.2h2.5v2.5h-2.5zM232.1,442.6h2.5v2.5h-2.5zM233.6,454.6h2.5v2.5h-2.5zM234.9,447.3h2.5v2.5h-2.5zM236.7,450.7h2.5v2.5h-2.5zM239.2,449.6h2.5v2.5h-2.5zM233.0,438.6h2.5v2.5h-2.5zM237.9,450.2h2.5v2.5h-2.5zM241.2,449.6h2.5v2.5h-2.5zM235.0,451.3h2.5v2.5h-2.5zM231.5,447.0h2.5v2.5h-2.5zM233.4,451.5h2.5v2.5h-2.5zM243.6,453.7h2.5v2.5h-2.5zM240.4,451.9h2.5v2.5h-2.5zM237.2,450.2h2.5v2.5h-2.5zM235.3,443.4h2.5v2.5h-2.5zM231.8,447.9h2.5v2.5h-2.5zM238.8,454.5h2.5v2.5h-2.5zM239.5,458.1h2.5v2.5h-2.5zM234.6,456.4h2.5v2.5h-2.5zM241.9,453.4h2.5v2.5h-2.5zM239.0,452.8h2.5v2.5h-2.5zM229.5,454.4h2.5v2.5h-2.5zM232.2,454.3h2.5v2.5h-2.5zM233.0,455.6h2.5v2.5h-2.5zM227.4,461.6h2.5v2.5h-2.5zM238.9,453.9h2.5v2.5h-2.5zM231.2,455.1h2.5v2.5h-2.5zM236.2,457.0h2.5v2.5h-2.5zM235.3,448.9h2.5v2.5h-2.5zM229.7,460.7h2.5v2.5h-2.5zM234.4,451.0h2.5v2.5h-2.5zM230.2,451.7h2.5v2.5h-2.5zM229.7,460.7h2.5v2.5h-2.5zM232.0,461.0h2.5v2.5h-2.5zM233.4,452.0h2.5v2.5h-2.5zM230.1,465.6h2.5v2.5h-2.5zM229.7,454.1h2.5v2.5h-2.5zM236.2,458.5h2.5v2.5h-2.5zM231.9,463.3h2.5v2.5h-2.5zM225.5,460.2h2.5v2.5h-2.5zM227.9,453.9h2.5v2.5h-2.5zM228.3,463.2h2.5v2.5h-2.5zM230.7,452.8h2.5v2.5h-2.5zM226.9,465.0h2.5v2.5h-2.5zM234.3,455.9h2.5v2.5h-2.5zM238.7,458.9h2.5v2.5h-2.5zM226.1,459.7h2.5v2.5h-2.5zM233.1,466.3h2.5v2.5h-2.5zM233.4,459.2h2.5v2.5h-2.5zM227.4,456.1h2.5v2.5h-2.5zM229.1,459.1h2.5v2.5h-2.5zM229.8,457.2h2.5v2.5h-2.5zM227.1,458.5h2.5v2.5h-2.5zM224.3,457.9h2.5v2.5h-2.5zM224.9,457.9h2.5v2.5h-2.5zM230.0,462.9h2.5v2.5h-2.5zM223.4,464.3h2.5v2.5h-2.5zM228.5,468.0h2.5v2.5h-2.5zM226.9,462.2h2.5v2.5h-2.5zM224.7,463.8h2.5v2.5h-2.5zM228.8,464.0h2.5v2.5h-2.5zM225.7,465.8h2.5v2.5h-2.5zM226.9,464.7h2.5v2.5h-2.5zM222.8,465.0h2.5v2.5h-2.5zM222.6,461.3h2.5v2.5h-2.5zM226.2,472.0h2.5v2.5h-2.5zM229.1,464.7h2.5v2.5h-2.5zM224.5,468.5h2.5v2.5h-2.5zM229.9,469.3h2.5v2.5h-2.5zM223.9,466.2h2.5v2.5h-2.5zM223.4,464.5h2.5v2.5h-2.5zM221.1,465.0h2.5v2.5h-2.5zM216.6,461.7h2.5v2.5h-2.5zM225.1,463.1h2.5v2.5h-2.5zM225.5,461.8h2.5v2.5h-2.5zM221.8,468.1h2.5v2.5h-2.5zM219.4,464.2h2.5v2.5h-2.5zM231.1,464.7h2.5v2.5h-2.5zM220.1,465.1h2.5v2.5h-2.5zM222.1,467.4h2.5v2.5h-2.5zM225.4,470.2h2.5v2.5h-2.5zM220.1,466.6h2.5v2.5h-2.5zM216.5,462.6h2.5v2.5h-2.5zM218.4,470.8h2.5v2.5h-2.5zM221.4,471.0h2.5v2.5h-2.5zM223.7,468.0h2.5v2.5h-2.5zM227.7,466.8h2.5v2.5h-2.5zM217.7,467.4h2.5v2.5h-2.5zM223.8,468.5h2.5v2.5h-2.5zM216.7,470.8h2.5v2.5h-2.5zM223.2,468.9h2.5v2.5h-2.5zM217.9,473.4h2.5v2.5h-2.5zM222.2,472.9h2.5v2.5h-2.5zM215.5,470.9h2.5v2.5h-2.5zM219.5,463.7h2.5v2.5h-2.5zM221.8,470.6h2.5v2.5h-2.5zM216.4,478.2h2.5v2.5h-2.5zM217.6,468.1h2.5v2.5h-2.5zM216.8,472.6h2.5v2.5h-2.5zM219.3,470.7h2.5v2.5h-2.5zM213.5,468.5h2.5v2.5h-2.5zM213.1,467.6h2.5v2.5h-2.5zM215.9,469.5h2.5v2.5h-2.5zM215.5,468.7h2.5v2.5h-2.5zM212.3,470.9h2.5v2.5h-2.5zM213.6,475.8h2.5v2.5h-2.5zM211.6,472.6h2.5v2.5h-2.5zM214.1,467.6h2.5v2.5h-2.5zM216.7,472.7h2.5v2.5h-2.5zM206.3,474.5h2.5v2.5h-2.5zM216.9,469.6h2.5v2.5h-2.5zM218.9,473.2h2.5v2.5h-2.5zM209.0,474.6h2.5v2.5h-2.5zM211.2,468.3h2.5v2.5h-2.5zM205.0,473.8h2.5v2.5h-2.5zM209.3,475.5h2.5v2.5h-2.5zM213.2,471.4h2.5v2.5h-2.5zM209.4,479.6h2.5v2.5h-2.5zM217.2,476.1h2.5v2.5h-2.5zM209.4,470.3h2.5v2.5h-2.5zM209.3,479.5h2.5v2.5h-2.5zM211.6,473.0h2.5v2.5h-2.5zM205.8,474.5h2.5v2.5h-2.5zM206.4,474.3h2.5v2.5h-2.5zM212.0,477.9h2.5v2.5h-2.5zM209.3,473.2h2.5v2.5h-2.5zM209.6,480.7h2.5v2.5h-2.5zM209.5,469.8h2.5v2.5h-2.5zM213.6,475.5h2.5v2.5h-2.5zM219.7,473.2h2.5v2.5h-2.5zM207.3,473.8h2.5v2.5h-2.5zM208.3,473.1h2.5v2.5h-2.5zM201.9,468.4h2.5v2.5h-2.5zM205.9,473.5h2.5v2.5h-2.5zM204.4,482.6h2.5v2.5h-2.5zM208.5,479.2h2.5v2.5h-2.5zM204.0,476.5h2.5v2.5h-2.5zM204.4,474.9h2.5v2.5h-2.5zM207.7,477.7h2.5v2.5h-2.5zM205.5,476.3h2.5v2.5h-2.5zM199.5,473.3h2.5v2.5h-2.5zM205.2,474.7h2.5v2.5h-2.5zM201.2,477.2h2.5v2.5h-2.5zM200.0,473.8h2.5v2.5h-2.5zM206.3,474.9h2.5v2.5h-2.5zM207.5,478.1h2.5v2.5h-2.5zM205.4,480.2h2.5v2.5h-2.5zM194.5,476.1h2.5v2.5h-2.5zM197.5,474.8h2.5v2.5h-2.5zM201.0,480.8h2.5v2.5h-2.5zM201.2,482.2h2.5v2.5h-2.5zM198.9,476.5h2.5v2.5h-2.5zM201.0,479.9h2.5v2.5h-2.5zM199.9,474.6h2.5v2.5h-2.5zM198.9,471.9h2.5v2.5h-2.5zM203.7,479.5h2.5v2.5h-2.5zM200.9,477.8h2.5v2.5h-2.5zM196.7,475.6h2.5v2.5h-2.5zM201.5,474.2h2.5v2.5h-2.5zM195.4,482.5h2.5v2.5h-2.5zM203.5,478.0h2.5v2.5h-2.5zM199.3,477.8h2.5v2.5h-2.5zM202.4,475.6h2.5v2.5h-2.5zM197.1,478.8h2.5v2.5h-2.5zM201.8,476.3h2.5v2.5h-2.5zM197.0,475.5h2.5v2.5h-2.5zM193.9,475.0h2.5v2.5h-2.5zM195.8,480.3h2.5v2.5h-2.5zM193.1,475.2h2.5v2.5h-2.5zM193.5,478.5h2.5v2.5h-2.5zM197.3,473.0h2.5v2.5h-2.5zM195.4,473.9h2.5v2.5h-2.5zM196.7,474.0h2.5v2.5h-2.5zM189.9,474.9h2.5v2.5h-2.5zM193.4,473.9h2.5v2.5h-2.5zM193.6,477.8h2.5v2.5h-2.5zM193.2,478.2h2.5v2.5h-2.5zM195.3,474.8h2.5v2.5h-2.5zM192.3,477.2h2.5v2.5h-2.5zM184.6,478.6h2.5v2.5h-2.5zM189.0,474.8h2.5v2.5h-2.5zM189.5,477.5h2.5v2.5h-2.5zM192.1,478.8h2.5v2.5h-2.5zM188.0,479.5h2.5v2.5h-2.5zM191.8,475.8h2.5v2.5h-2.5zM189.6,479.8h2.5v2.5h-2.5zM191.2,479.4h2.5v2.5h-2.5zM189.4,480.8h2.5v2.5h-2.5zM196.6,478.5h2.5v2.5h-2.5zM182.9,482.7h2.5v2.5h-2.5zM186.5,472.1h2.5v2.5h-2.5zM179.7,478.1h2.5v2.5h-2.5zM191.5,480.1h2.5v2.5h-2.5zM185.8,481.5h2.5v2.5h-2.5zM186.9,474.5h2.5v2.5h-2.5zM186.7,477.1h2.5v2.5h-2.5zM186.7,477.7h2.5v2.5h-2.5zM178.4,481.6h2.5v2.5h-2.5zM183.9,478.4h2.5v2.5h-2.5zM182.5,476.6h2.5v2.5h-2.5zM184.7,470.6h2.5v2.5h-2.5zM185.9,478.0h2.5v2.5h-2.5zM180.8,468.7h2.5v2.5h-2.5zM181.8,472.7h2.5v2.5h-2.5zM184.4,475.5h2.5v2.5h-2.5zM188.9,477.5h2.5v2.5h-2.5zM182.6,475.9h2.5v2.5h-2.5zM173.0,471.9h2.5v2.5h-2.5zM179.7,474.7h2.5v2.5h-2.5zM183.4,475.5h2.5v2.5h-2.5zM185.4,472.4h2.5v2.5h-2.5zM182.7,474.0h2.5v2.5h-2.5zM181.8,475.5h2.5v2.5h-2.5zM180.2,474.8h2.5v2.5h-2.5zM181.0,477.6h2.5v2.5h-2.5zM180.2,474.8h2.5v2.5h-2.5zM189.4,475.8h2.5v2.5h-2.5zM181.8,477.0h2.5v2.5h-2.5zM176.7,475.7h2.5v2.5h-2.5zM182.1,474.4h2.5v2.5h-2.5zM182.9,475.6h2.5v2.5h-2.5zM183.1,470.3h2.5v2.5h-2.5zM180.6,470.7h2.5v2.5h-2.5zM182.8,472.5h2.5v2.5h-2.5zM174.2,472.4h2.5v2.5h-2.5zM174.8,474.9h2.5v2.5h-2.5zM177.0,464.2h2.5v2.5h-2.5zM176.4,474.6h2.5v2.5h-2.5zM178.8,469.0h2.5v2.5h-2.5zM179.5,472.5h2.5v2.5h-2.5zM182.3,473.6h2.5v2.5h-2.5zM178.2,467.4h2.5v2.5h-2.5zM177.9,471.1h2.5v2.5h-2.5zM176.7,470.9h2.5v2.5h-2.5zM172.6,471.4h2.5v2.5h-2.5zM176.3,470.2h2.5v2.5h-2.5zM176.0,467.9h2.5v2.5h-2.5zM176.8,471.0h2.5v2.5h-2.5zM174.9,469.5h2.5v2.5h-2.5zM173.1,469.2h2.5v2.5h-2.5zM175.8,463.4h2.5v2.5h-2.5zM179.4,464.2h2.5v2.5h-2.5zM175.7,462.7h2.5v2.5h-2.5zM169.4,468.8h2.5v2.5h-2.5zM170.5,459.5h2.5v2.5h-2.5zM174.4,460.7h2.5v2.5h-2.5zM174.4,472.1h2.5v2.5h-2.5zM173.6,466.5h2.5v2.5h-2.5zM176.8,466.1h2.5v2.5h-2.5zM174.4,469.8h2.5v2.5h-2.5zM174.5,465.9h2.5v2.5h-2.5zM175.1,459.7h2.5v2.5h-2.5zM175.8,464.2h2.5v2.5h-2.5zM176.8,465.7h2.5v2.5h-2.5zM179.9,457.0h2.5v2.5h-2.5zM172.7,461.1h2.5v2.5h-2.5zM171.7,464.1h2.5v2.5h-2.5zM174.3,462.5h2.5v2.5h-2.5zM169.1,458.9h2.5v2.5h-2.5zM174.4,459.9h2.5v2.5h-2.5zM172.6,461.0h2.5v2.5h-2.5zM173.7,457.2h2.5v2.5h-2.5zM180.2,458.5h2.5v2.5h-2.5zM176.9,462.1h2.5v2.5h-2.5zM177.9,458.2h2.5v2.5h-2.5zM171.4,461.0h2.5v2.5h-2.5zM175.7,451.6h2.5v2.5h-2.5zM166.1,457.0h2.5v2.5h-2.5zM173.6,457.9h2.5v2.5h-2.5zM176.4,454.9h2.5v2.5h-2.5zM183.9,461.2h2.5v2.5h-2.5zM179.5,458.5h2.5v2.5h-2.5zM168.2,458.4h2.5v2.5h-2.5zM173.4,458.4h2.5v2.5h-2.5zM174.9,459.2h2.5v2.5h-2.5zM172.5,455.1h2.5v2.5h-2.5zM175.5,453.8h2.5v2.5h-2.5zM174.1,457.8h2.5v2.5h-2.5zM182.1,455.0h2.5v2.5h-2.5zM178.6,451.3h2.5v2.5h-2.5zM174.3,456.2h2.5v2.5h-2.5zM178.0,451.0h2.5v2.5h-2.5zM178.1,455.0h2.5v2.5h-2.5zM180.7,457.0h2.5v2.5h-2.5zM178.2,452.5h2.5v2.5h-2.5zM177.5,450.4h2.5v2.5h-2.5zM173.8,447.1h2.5v2.5h-2.5zM172.5,448.4h2.5v2.5h-2.5zM176.5,453.0h2.5v2.5h-2.5zM172.6,451.8h2.5v2.5h-2.5zM178.5,455.2h2.5v2.5h-2.5zM177.1,452.2h2.5v2.5h-2.5zM176.2,454.6h2.5v2.5h-2.5zM172.5,451.7h2.5v2.5h-2.5zM169.9,456.7h2.5v2.5h-2.5zM181.1,443.3h2.5v2.5h-2.5zM176.3,445.6h2.5v2.5h-2.5zM172.4,448.4h2.5v2.5h-2.5zM175.4,453.3h2.5v2.5h-2.5zM176.9,445.5h2.5v2.5h-2.5zM178.4,450.6h2.5v2.5h-2.5zM181.8,450.4h2.5v2.5h-2.5zM174.0,445.9h2.5v2.5h-2.5zM178.8,445.3h2.5v2.5h-2.5zM181.9,447.0h2.5v2.5h-2.5zM179.5,446.3h2.5v2.5h-2.5zM179.9,442.6h2.5v2.5h-2.5zM187.1,445.1h2.5v2.5h-2.5zM177.7,441.1h2.5v2.5h-2.5zM180.2,441.9h2.5v2.5h-2.5zM181.6,450.5h2.5v2.5h-2.5zM182.9,444.5h2.5v2.5h-2.5zM185.1,445.4h2.5v2.5h-2.5zM181.1,445.7h2.5v2.5h-2.5zM179.7,446.9h2.5v2.5h-2.5zM177.6,439.1h2.5v2.5h-2.5zM185.7,442.5h2.5v2.5h-2.5zM180.9,445.6h2.5v2.5h-2.5zM180.5,440.5h2.5v2.5h-2.5zM181.9,440.8h2.5v2.5h-2.5zM184.4,442.5h2.5v2.5h-2.5zM182.1,446.1h2.5v2.5h-2.5zM177.8,438.5h2.5v2.5h-2.5zM185.8,447.2h2.5v2.5h-2.5zM183.7,440.7h2.5v2.5h-2.5zM188.0,444.3h2.5v2.5h-2.5zM187.3,436.5h2.5v2.5h-2.5zM183.9,438.6h2.5v2.5h-2.5zM180.6,444.0h2.5v2.5h-2.5zM187.2,440.0h2.5v2.5h-2.5zM183.9,446.2h2.5v2.5h-2.5zM187.4,440.8h2.5v2.5h-2.5zM186.9,441.5h2.5v2.5h-2.5zM181.5,439.0h2.5v2.5h-2.5zM186.6,442.8h2.5v2.5h-2.5zM182.1,437.6h2.5v2.5h-2.5zM184.2,435.2h2.5v2.5h-2.5zM190.3,441.3h2.5v2.5h-2.5zM191.0,432.5h2.5v2.5h-2.5zM184.4,445.5h2.5v2.5h-2.5zM182.4,433.3h2.5v2.5h-2.5zM188.4,444.2h2.5v2.5h-2.5zM189.8,435.8h2.5v2.5h-2.5zM190.0,439.9h2.5v2.5h-2.5zM189.0,439.8h2.5v2.5h-2.5zM191.4,442.0h2.5v2.5h-2.5zM193.2,441.7h2.5v2.5h-2.5zM188.6,431.5h2.5v2.5h-2.5zM191.0,432.7h2.5v2.5h-2.5zM197.3,433.5h2.5v2.5h-2.5zM183.5,431.1h2.5v2.5h-2.5zM191.5,437.9h2.5v2.5h-2.5zM192.3,437.9h2.5v2.5h-2.5zM188.1,439.3h2.5v2.5h-2.5zM188.4,431.5h2.5v2.5h-2.5zM194.2,437.9h2.5v2.5h-2.5zM188.1,435.3h2.5v2.5h-2.5zM195.2,438.9h2.5v2.5h-2.5zM188.1,439.5h2.5v2.5h-2.5zM183.6,435.7h2.5v2.5h-2.5zM193.5,435.0h2.5v2.5h-2.5zM193.2,429.7h2.5v2.5h-2.5zM192.4,436.7h2.5v2.5h-2.5zM190.2,435.2h2.5v2.5h-2.5zM192.8,427.2h2.5v2.5h-2.5zM191.9,436.3h2.5v2.5h-2.5zM188.7,434.4h2.5v2.5h-2.5zM195.6,429.7h2.5v2.5h-2.5zM193.6,437.0h2.5v2.5h-2.5zM197.4,430.3h2.5v2.5h-2.5zM198.4,434.8h2.5v2.5h-2.5zM196.0,438.4h2.5v2.5h-2.5zM198.0,434.6h2.5v2.5h-2.5zM199.4,435.2h2.5v2.5h-2.5zM200.4,432.6h2.5v2.5h-2.5zM190.7,437.9h2.5v2.5h-2.5zM199.4,434.5h2.5v2.5h-2.5zM197.4,432.1h2.5v2.5h-2.5zM197.6,429.2h2.5v2.5h-2.5zM200.4,432.4h2.5v2.5h-2.5zM194.6,433.0h2.5v2.5h-2.5zM197.3,431.7h2.5v2.5h-2.5zM200.3,440.8h2.5v2.5h-2.5zM195.4,432.9h2.5v2.5h-2.5zM201.4,432.9h2.5v2.5h-2.5zM204.6,429.8h2.5v2.5h-2.5zM198.5,431.2h2.5v2.5h-2.5zM195.6,434.6h2.5v2.5h-2.5zM196.0,432.8h2.5v2.5h-2.5zM204.8,427.8h2.5v2.5h-2.5zM200.2,430.0h2.5v2.5h-2.5zM207.1,431.3h2.5v2.5h-2.5zM195.5,434.0h2.5v2.5h-2.5zM205.4,423.4h2.5v2.5h-2.5zM192.8,438.9h2.5v2.5h-2.5zM202.9,422.7h2.5v2.5h-2.5zM206.1,434.6h2.5v2.5h-2.5zM195.1,433.9h2.5v2.5h-2.5zM205.5,429.6h2.5v2.5h-2.5zM201.4,430.7h2.5v2.5h-2.5zM201.0,429.9h2.5v2.5h-2.5zM203.5,427.7h2.5v2.5h-2.5zM206.2,432.5h2.5v2.5h-2.5zM208.0,430.4h2.5v2.5h-2.5zM210.7,424.7h2.5v2.5h-2.5zM205.8,429.4h2.5v2.5h-2.5zM209.7,421.1h2.5v2.5h-2.5zM204.7,427.5h2.5v2.5h-2.5zM206.9,436.1h2.5v2.5h-2.5zM207.6,428.0h2.5v2.5h-2.5zM208.3,431.6h2.5v2.5h-2.5zM206.9,433.8h2.5v2.5h-2.5zM203.4,432.3h2.5v2.5h-2.5zM210.5,431.3h2.5v2.5h-2.5zM213.3,427.1h2.5v2.5h-2.5zM210.1,428.7h2.5v2.5h-2.5zM206.7,425.2h2.5v2.5h-2.5zM206.7,430.4h2.5v2.5h-2.5zM201.6,423.3h2.5v2.5h-2.5zM210.2,431.9h2.5v2.5h-2.5zM209.6,431.7h2.5v2.5h-2.5zM210.4,425.5h2.5v2.5h-2.5zM205.3,427.9h2.5v2.5h-2.5zM217.1,427.5h2.5v2.5h-2.5zM207.7,429.1h2.5v2.5h-2.5zM207.2,423.2h2.5v2.5h-2.5zM215.6,428.4h2.5v2.5h-2.5zM215.8,427.7h2.5v2.5h-2.5zM212.1,427.5h2.5v2.5h-2.5zM212.1,430.3h2.5v2.5h-2.5zM208.8,420.4h2.5v2.5h-2.5zM210.9,429.7h2.5v2.5h-2.5zM212.0,418.9h2.5v2.5h-2.5zM224.0,423.4h2.5v2.5h-2.5zM213.8,428.5h2.5v2.5h-2.5zM216.3,425.9h2.5v2.5h-2.5zM209.8,428.3h2.5v2.5h-2.5zM212.4,425.8h2.5v2.5h-2.5zM218.3,425.1h2.5v2.5h-2.5zM210.3,424.3h2.5v2.5h-2.5zM218.4,428.8h2.5v2.5h-2.5zM212.6,426.5h2.5v2.5h-2.5zM218.0,429.9h2.5v2.5h-2.5zM219.0,426.8h2.5v2.5h-2.5zM216.6,427.8h2.5v2.5h-2.5zM220.9,425.7h2.5v2.5h-2.5zM217.4,432.1h2.5v2.5h-2.5zM218.8,423.6h2.5v2.5h-2.5zM221.2,422.0h2.5v2.5h-2.5zM216.0,429.3h2.5v2.5h-2.5zM219.7,428.9h2.5v2.5h-2.5zM222.9,423.6h2.5v2.5h-2.5zM222.0,424.9h2.5v2.5h-2.5zM221.6,427.1h2.5v2.5h-2.5zM220.6,421.9h2.5v2.5h-2.5zM222.6,426.3h2.5v2.5h-2.5zM223.3,422.7h2.5v2.5h-2.5zM222.9,425.6h2.5v2.5h-2.5zM220.8,425.4h2.5v2.5h-2.5zM222.0,421.8h2.5v2.5h-2.5zM221.0,424.8h2.5v2.5h-2.5zM225.1,425.9h2.5v2.5h-2.5zM228.3,428.5h2.5v2.5h-2.5zM225.2,427.2h2.5v2.5h-2.5zM219.4,427.7h2.5v2.5h-2.5zM229.0,423.2h2.5v2.5h-2.5zM229.2,428.7h2.5v2.5h-2.5zM226.4,425.3h2.5v2.5h-2.5zM225.5,424.1h2.5v2.5h-2.5zM226.0,427.1h2.5v2.5h-2.5zM226.3,422.8h2.5v2.5h-2.5zM229.8,424.8h2.5v2.5h-2.5zM228.0,429.0h2.5v2.5h-2.5zM226.6,435.4h2.5v2.5h-2.5zM227.7,428.6h2.5v2.5h-2.5zM227.1,428.5h2.5v2.5h-2.5zM223.7,429.5h2.5v2.5h-2.5zM227.3,425.9h2.5v2.5h-2.5zM231.1,430.6h2.5v2.5h-2.5zM227.8,424.4h2.5v2.5h-2.5zM222.5,424.5h2.5v2.5h-2.5zM231.4,430.2h2.5v2.5h-2.5zM225.6,428.2h2.5v2.5h-2.5zM233.9,425.8h2.5v2.5h-2.5zM228.5,425.3h2.5v2.5h-2.5zM232.3,422.3h2.5v2.5h-2.5zM230.5,430.2h2.5v2.5h-2.5zM231.3,432.1h2.5v2.5h-2.5zM233.6,427.2h2.5v2.5h-2.5zM228.7,425.7h2.5v2.5h-2.5zM233.7,428.8h2.5v2.5h-2.5zM233.0,426.6h2.5v2.5h-2.5zM236.5,432.5h2.5v2.5h-2.5zM235.7,426.2h2.5v2.5h-2.5zM241.8,432.8h2.5v2.5h-2.5zM230.1,433.6h2.5v2.5h-2.5zM233.3,427.8h2.5v2.5h-2.5zM231.6,432.4h2.5v2.5h-2.5zM235.2,431.5h2.5v2.5h-2.5zM233.9,427.8h2.5v2.5h-2.5zM235.5,430.3h2.5v2.5h-2.5zM234.4,433.7h2.5v2.5h-2.5zM240.8,429.6h2.5v2.5h-2.5zM238.8,429.7h2.5v2.5h-2.5zM238.4,434.3h2.5v2.5h-2.5zM236.1,433.5h2.5v2.5h-2.5zM233.4,431.5h2.5v2.5h-2.5zM239.5,435.7h2.5v2.5h-2.5zM243.9,429.8h2.5v2.5h-2.5zM235.2,434.1h2.5v2.5h-2.5zM236.9,432.1h2.5v2.5h-2.5zM245.4,439.3h2.5v2.5h-2.5zM183.1,440.5h2.5v2.5h-2.5zM218.4,426.0h2.5v2.5h-2.5zM209.8,463.0h2.5v2.5h-2.5zM210.4,477.1h2.5v2.5h-2.5zM193.8,488.9h2.5v2.5h-2.5zM240.0,433.6h2.5v2.5h-2.5zM211.1,435.5h2.5v2.5h-2.5zM225.9,431.4h2.5v2.5h-2.5zM172.2,475.0h2.5v2.5h-2.5zM230.9,466.7h2.5v2.5h-2.5zM221.4,465.7h2.5v2.5h-2.5zM183.3,477.2h2.5v2.5h-2.5zM207.7,436.3h2.5v2.5h-2.5zM212.2,466.1h2.5v2.5h-2.5zM169.6,458.0h2.5v2.5h-2.5zM180.0,434.7h2.5v2.5h-2.5zM221.9,469.4h2.5v2.5h-2.5zM214.0,419.5h2.5v2.5h-2.5zM237.4,426.3h2.5v2.5h-2.5zM184.2,452.0h2.5v2.5h-2.5zM226.4,433.7h2.5v2.5h-2.5zM218.6,473.7h2.5v2.5h-2.5zM256.7,444.4h2.5v2.5h-2.5zM183.1,454.5h2.5v2.5h-2.5zM162.5,472.8h2.5v2.5h-2.5zM206.6,437.1h2.5v2.5h-2.5zM221.9,437.3h2.5v2.5h-2.5zM243.4,445.9h2.5v2.5h-2.5zM228.7,432.2h2.5v2.5h-2.5zM215.6,424.7h2.5v2.5h-2.5zM256.0,432.9h2.5v2.5h-2.5zM199.1,481.2h2.5v2.5h-2.5zM229.0,441.5h2.5v2.5h-2.5zM218.5,471.0h2.5v2.5h-2.5zM177.5,463.3h2.5v2.5h-2.5zM190.7,469.0h2.5v2.5h-2.5zM219.8,434.1h2.5v2.5h-2.5zM189.0,469.8h2.5v2.5h-2.5zM210.1,416.3h2.5v2.5h-2.5z" fill="#ee1111"/>
<path d="M179.7,444.2h2.5v2.5h-2.5zM185.6,447.0h2.5v2.5h-2.5zM186.3,443.6h2.5v2.5h-2.5zM185.4,442.8h2.5v2.5h-2.5zM182.8,442.2h2.5v2.5h-2.5zM188.8,443.6h2.5v2.5h-2.5zM187.0,440.6h2.5v2.5h-2.5zM188.5,441.5h2.5v2.5h-2.5zM189.7,443.9h2.5v2.5h-2.5zM185.7,442.8h2.5v2.5h-2.5zM188.5,441.1h2.5v2.5h-2.5zM189.9,445.7h2.5v2.5h-2.5zM195.1,444.5h2.5v2.5h-2.5zM193.0,440.4h2.5v2.5h-2.5zM194.8,444.2h2.5v2.5h-2.5zM196.3,445.7h2.5v2.5h-2.5zM196.5,448.7h2.5v2.5h-2.5zM199.6,449.7h2.5v2.5h-2.5zM199.5,445.4h2.5v2.5h-2.5zM197.9,448.2h2.5v2.5h-2.5zM202.9,447.3h2.5v2.5h-2.5zM202.3,447.0h2.5v2.5h-2.5zM201.3,447.5h2.5v2.5h-2.5zM198.9,446.6h2.5v2.5h-2.5zM203.9,449.7h2.5v2.5h-2.5zM207.0,451.4h2.5v2.5h-2.5zM206.3,450.8h2.5v2.5h-2.5zM201.2,451.4h2.5v2.5h-2.5zM205.0,453.0h2.5v2.5h-2.5zM207.2,451.7h2.5v2.5h-2.5zM207.4,452.3h2.5v2.5h-2.5zM205.2,450.0h2.5v2.5h-2.5zM212.9,455.0h2.5v2.5h-2.5zM210.1,453.9h2.5v2.5h-2.5zM211.1,462.3h2.5v2.5h-2.5zM213.9,455.7h2.5v2.5h-2.5zM212.2,450.9h2.5v2.5h-2.5zM214.9,459.4h2.5v2.5h-2.5zM217.6,457.3h2.5v2.5h-2.5zM215.2,454.5h2.5v2.5h-2.5zM217.6,456.5h2.5v2.5h-2.5zM215.9,461.4h2.5v2.5h-2.5zM217.3,456.9h2.5v2.5h-2.5zM215.1,461.9h2.5v2.5h-2.5zM221.0,457.8h2.5v2.5h-2.5zM222.9,456.0h2.5v2.5h-2.5zM221.9,458.4h2.5v2.5h-2.5zM222.5,458.3h2.5v2.5h-2.5zM227.9,459.1h2.5v2.5h-2.5zM229.4,459.6h2.5v2.5h-2.5zM230.0,457.9h2.5v2.5h-2.5zM226.1,455.1h2.5v2.5h-2.5zM223.8,456.0h2.5v2.5h-2.5zM223.1,455.4h2.5v2.5h-2.5zM222.9,463.5h2.5v2.5h-2.5zM219.6,459.3h2.5v2.5h-2.5zM221.6,456.5h2.5v2.5h-2.5zM218.7,456.9h2.5v2.5h-2.5zM219.3,456.3h2.5v2.5h-2.5zM223.1,459.3h2.5v2.5h-2.5zM219.0,461.8h2.5v2.5h-2.5zM218.5,456.5h2.5v2.5h-2.5zM215.4,456.5h2.5v2.5h-2.5zM214.2,458.2h2.5v2.5h-2.5zM208.3,452.0h2.5v2.5h-2.5zM211.2,456.1h2.5v2.5h-2.5zM210.0,454.2h2.5v2.5h-2.5zM212.6,455.5h2.5v2.5h-2.5zM209.1,452.8h2.5v2.5h-2.5zM205.3,454.0h2.5v2.5h-2.5zM207.9,450.3h2.5v2.5h-2.5zM207.9,451.0h2.5v2.5h-2.5zM205.3,447.5h2.5v2.5h-2.5zM207.2,448.9h2.5v2.5h-2.5zM205.1,450.4h2.5v2.5h-2.5zM202.4,449.1h2.5v2.5h-2.5zM202.4,448.1h2.5v2.5h-2.5zM202.5,446.6h2.5v2.5h-2.5zM202.8,447.6h2.5v2.5h-2.5zM197.9,447.7h2.5v2.5h-2.5zM198.7,447.3h2.5v2.5h-2.5zM193.6,446.5h2.5v2.5h-2.5zM193.0,444.1h2.5v2.5h-2.5zM204.1,446.0h2.5v2.5h-2.5zM198.5,442.4h2.5v2.5h-2.5zM192.9,443.3h2.5v2.5h-2.5zM195.2,443.1h2.5v2.5h-2.5zM191.9,441.3h2.5v2.5h-2.5zM191.5,446.7h2.5v2.5h-2.5zM191.4,442.1h2.5v2.5h-2.5zM189.8,440.7h2.5v2.5h-2.5zM186.5,443.1h2.5v2.5h-2.5zM191.4,443.7h2.5v2.5h-2.5zM184.5,446.1h2.5v2.5h-2.5zM187.1,447.1h2.5v2.5h-2.5zM185.3,440.1h2.5v2.5h-2.5zM185.1,442.9h2.5v2.5h-2.5zM181.2,441.7h2.5v2.5h-2.5zM181.7,441.6h2.5v2.5h-2.5z" fill="#ee1111"/>
<circle cx="206.5" cy="452.4" r="85.0" fill="none" stroke="#111" stroke-width="1.3"/>
<circle cx="206.5" cy="452.4" r="22.0" fill="none" stroke="#111" stroke-width="1.3"/>
</g>
<path d="M430.3,355.6V549.7M545.8,355.6V549.7M661.3,355.6V549.7M419.0,510.8H672.5M419.0,453.0H672.5M419.0,395.2H672.5" stroke="#ededed" stroke-width="2" fill="none"/>
<path d="M419.0,354.5V550.8M672.5,354.5V550.8" stroke="#5c5c5c" stroke-width="1.7" fill="none"/>
<path d="M418.1,355.6H673.4M418.1,549.7H673.4" stroke="#5c5c5c" stroke-width="2.3" fill="none"/>
<path d="M430.3,355.6v3M430.3,549.7v-3M545.8,355.6v3M545.8,549.7v-3M661.3,355.6v3M661.3,549.7v-3M419.0,510.8h3M672.5,510.8h-3M419.0,453.0h3M672.5,453.0h-3M419.0,395.2h3M672.5,395.2h-3" stroke="#5c5c5c" stroke-width="2" fill="none"/>
<clipPath id="c3"><rect x="417.8" y="354.4" width="255.9" height="196.5"/></clipPath>
<g clip-path="url(#c3)">
<path d="M454.8,365.5 C453.0,367.8 447.5,374.2 444.1,379.1 C440.7,384.0 437.3,389.2 434.4,394.7 C431.5,400.2 428.6,406.1 426.5,412.0 C424.4,417.9 422.7,423.7 421.5,430.0 C420.3,436.3 419.8,443.7 419.4,450.0 C419.0,456.3 419.1,463.0 419.4,468.0 C419.7,473.0 420.7,478.0 421.0,480.0" fill="none" stroke="#2010cc" stroke-width="3.0" stroke-linejoin="round" stroke-linecap="round" />
<path d="M421.0,480.0 L434.4,493.0 L453.8,509.0 L473.3,525.0 L496.6,544.2 L504.3,539.3" fill="none" stroke="#2010cc" stroke-width="2.9" stroke-linejoin="round" stroke-linecap="round"/>
<path d="M589.7,367.5 C591.0,367.0 595.0,364.8 597.4,364.6 C599.8,364.4 602.9,366.2 604.0,366.5" fill="none" stroke="#2010cc" stroke-width="3.2" stroke-linejoin="round" stroke-linecap="round" />
<path d="M604.0,366.5 L628.5,386.5 L647.9,402.4 L665.4,418.0" fill="none" stroke="#2010cc" stroke-width="3.0" stroke-linejoin="round" stroke-linecap="round"/>
<path d="M665.4,418.0 C666.4,420.3 670.0,426.3 671.2,431.6 C672.4,436.9 672.4,444.9 672.6,450.0 C672.8,455.1 673.0,457.1 672.4,462.0 C671.8,466.9 671.1,472.4 669.3,479.1 C667.5,485.8 664.4,495.3 661.5,502.4 C658.6,509.5 655.0,516.6 651.8,521.8 C648.6,527.0 644.7,529.9 642.1,533.5 C639.5,537.1 637.3,541.6 636.3,543.2" fill="none" stroke="#2010cc" stroke-width="3.0" stroke-linejoin="round" stroke-linecap="round" />
<path d="M506.3,369.4 L520.0,366.0 L531.5,363.6 L548.0,360.5 L570.2,358.5" fill="none" stroke="#2010cc" stroke-width="3.0" stroke-linejoin="round" stroke-linecap="round"/>
<path d="M519.9,547.1 L535.0,546.0 L548.0,545.1 L566.0,542.5 L585.8,539.3" fill="none" stroke="#2010cc" stroke-width="3.0" stroke-linejoin="round" stroke-linecap="round"/>
<path d="M459.6,369.7h2.6v2.6h-2.6zM463.7,372.6h2.6v2.6h-2.6zM462.4,373.8h2.6v2.6h-2.6zM466.5,370.9h2.6v2.6h-2.6zM467.7,377.0h2.6v2.6h-2.6zM477.8,372.5h2.6v2.6h-2.6zM476.9,375.6h2.6v2.6h-2.6zM480.9,376.2h2.6v2.6h-2.6zM483.5,370.2h2.6v2.6h-2.6zM486.4,377.4h2.6v2.6h-2.6zM489.2,373.1h2.6v2.6h-2.6zM494.3,374.9h2.6v2.6h-2.6zM494.8,373.3h2.6v2.6h-2.6zM498.5,375.4h2.6v2.6h-2.6zM497.6,375.9h2.6v2.6h-2.6zM502.9,374.4h2.6v2.6h-2.6zM503.7,373.8h2.6v2.6h-2.6zM506.7,374.0h2.6v2.6h-2.6zM507.4,369.1h2.6v2.6h-2.6zM514.5,366.8h2.6v2.6h-2.6zM514.5,370.7h2.6v2.6h-2.6zM520.2,368.3h2.6v2.6h-2.6zM521.6,371.3h2.6v2.6h-2.6zM526.2,372.5h2.6v2.6h-2.6zM523.7,369.6h2.6v2.6h-2.6z" fill="#2010cc"/>
<path d="M590.7,529.1h2.6v2.6h-2.6zM592.4,528.1h2.6v2.6h-2.6zM596.2,533.1h2.6v2.6h-2.6zM596.7,530.6h2.6v2.6h-2.6zM600.2,530.0h2.6v2.6h-2.6zM602.1,530.2h2.6v2.6h-2.6zM603.5,532.5h2.6v2.6h-2.6zM608.5,527.6h2.6v2.6h-2.6zM611.0,529.5h2.6v2.6h-2.6zM613.1,529.0h2.6v2.6h-2.6zM612.5,530.1h2.6v2.6h-2.6zM617.7,530.8h2.6v2.6h-2.6zM620.3,528.3h2.6v2.6h-2.6zM621.8,531.0h2.6v2.6h-2.6zM621.1,533.0h2.6v2.6h-2.6z" fill="#2010cc"/>
<path d="M567.7,355.9h2.6v2.6h-2.6zM569.7,356.9h2.6v2.6h-2.6zM569.6,356.0h2.6v2.6h-2.6zM573.5,362.7h2.6v2.6h-2.6zM573.0,361.9h2.6v2.6h-2.6zM573.9,361.7h2.6v2.6h-2.6zM577.3,362.6h2.6v2.6h-2.6zM577.3,363.8h2.6v2.6h-2.6zM580.6,363.2h2.6v2.6h-2.6zM580.8,362.5h2.6v2.6h-2.6zM583.1,366.3h2.6v2.6h-2.6zM582.6,365.6h2.6v2.6h-2.6zM584.7,368.1h2.6v2.6h-2.6zM588.1,366.7h2.6v2.6h-2.6zM589.7,367.0h2.6v2.6h-2.6zM590.2,368.9h2.6v2.6h-2.6zM592.2,369.5h2.6v2.6h-2.6z" fill="#2010cc"/>
<path d="M449.4,366.9h2.7v2.7h-2.7zM451.3,371.5h2.7v2.7h-2.7zM451.3,371.5h2.7v2.7h-2.7zM453.7,373.3h2.7v2.7h-2.7zM451.5,369.7h2.7v2.7h-2.7zM451.5,373.5h2.7v2.7h-2.7zM452.0,375.5h2.7v2.7h-2.7zM449.8,379.3h2.7v2.7h-2.7zM452.6,373.5h2.7v2.7h-2.7zM452.1,375.7h2.7v2.7h-2.7zM452.9,378.5h2.7v2.7h-2.7zM454.2,379.2h2.7v2.7h-2.7zM454.3,380.0h2.7v2.7h-2.7zM452.1,381.6h2.7v2.7h-2.7zM450.6,380.3h2.7v2.7h-2.7zM450.6,383.2h2.7v2.7h-2.7zM453.6,385.4h2.7v2.7h-2.7zM451.4,382.7h2.7v2.7h-2.7zM448.7,388.5h2.7v2.7h-2.7zM452.9,388.7h2.7v2.7h-2.7zM454.0,390.6h2.7v2.7h-2.7zM453.4,387.4h2.7v2.7h-2.7zM454.0,388.0h2.7v2.7h-2.7zM453.0,393.2h2.7v2.7h-2.7zM451.9,393.2h2.7v2.7h-2.7zM449.9,392.2h2.7v2.7h-2.7zM451.4,395.3h2.7v2.7h-2.7zM450.5,395.6h2.7v2.7h-2.7zM453.5,395.3h2.7v2.7h-2.7zM450.2,396.3h2.7v2.7h-2.7zM452.4,399.5h2.7v2.7h-2.7zM450.5,400.2h2.7v2.7h-2.7zM452.7,398.9h2.7v2.7h-2.7zM450.1,398.7h2.7v2.7h-2.7zM451.2,402.2h2.7v2.7h-2.7zM447.9,406.4h2.7v2.7h-2.7zM451.8,405.8h2.7v2.7h-2.7zM451.4,405.4h2.7v2.7h-2.7zM451.1,403.0h2.7v2.7h-2.7zM445.4,405.9h2.7v2.7h-2.7zM449.0,408.7h2.7v2.7h-2.7zM447.4,406.7h2.7v2.7h-2.7zM447.4,408.5h2.7v2.7h-2.7zM449.1,410.0h2.7v2.7h-2.7zM446.9,411.9h2.7v2.7h-2.7zM447.7,410.3h2.7v2.7h-2.7zM447.0,412.5h2.7v2.7h-2.7zM444.9,416.1h2.7v2.7h-2.7zM445.9,416.3h2.7v2.7h-2.7zM444.3,416.5h2.7v2.7h-2.7zM445.4,416.2h2.7v2.7h-2.7zM446.7,420.4h2.7v2.7h-2.7zM445.8,416.8h2.7v2.7h-2.7zM443.5,419.5h2.7v2.7h-2.7zM446.0,422.3h2.7v2.7h-2.7zM444.2,420.7h2.7v2.7h-2.7zM446.4,419.7h2.7v2.7h-2.7zM444.9,423.7h2.7v2.7h-2.7zM444.5,423.7h2.7v2.7h-2.7zM445.2,425.5h2.7v2.7h-2.7zM447.1,426.8h2.7v2.7h-2.7zM447.9,428.9h2.7v2.7h-2.7zM443.3,431.6h2.7v2.7h-2.7zM451.8,427.7h2.7v2.7h-2.7zM447.5,429.9h2.7v2.7h-2.7zM445.9,432.1h2.7v2.7h-2.7zM446.9,433.0h2.7v2.7h-2.7zM448.1,432.4h2.7v2.7h-2.7zM450.7,436.2h2.7v2.7h-2.7zM445.9,437.9h2.7v2.7h-2.7zM448.4,438.5h2.7v2.7h-2.7zM450.5,436.8h2.7v2.7h-2.7zM451.8,438.9h2.7v2.7h-2.7zM447.4,438.9h2.7v2.7h-2.7zM446.9,438.4h2.7v2.7h-2.7zM449.2,441.0h2.7v2.7h-2.7zM450.3,443.3h2.7v2.7h-2.7zM449.3,444.6h2.7v2.7h-2.7zM448.2,444.2h2.7v2.7h-2.7zM452.5,449.8h2.7v2.7h-2.7zM449.9,448.7h2.7v2.7h-2.7zM449.4,446.5h2.7v2.7h-2.7zM450.0,444.1h2.7v2.7h-2.7zM450.5,452.6h2.7v2.7h-2.7zM451.7,449.5h2.7v2.7h-2.7zM449.7,451.3h2.7v2.7h-2.7zM454.4,454.4h2.7v2.7h-2.7zM450.6,452.1h2.7v2.7h-2.7zM449.7,456.9h2.7v2.7h-2.7zM450.9,456.0h2.7v2.7h-2.7zM450.0,453.4h2.7v2.7h-2.7zM455.1,453.9h2.7v2.7h-2.7zM453.9,457.9h2.7v2.7h-2.7zM454.2,460.4h2.7v2.7h-2.7zM451.0,459.1h2.7v2.7h-2.7zM454.8,462.9h2.7v2.7h-2.7zM452.0,462.5h2.7v2.7h-2.7zM454.6,460.8h2.7v2.7h-2.7zM454.2,462.7h2.7v2.7h-2.7zM456.4,464.8h2.7v2.7h-2.7zM458.6,464.7h2.7v2.7h-2.7zM457.6,465.8h2.7v2.7h-2.7zM460.9,469.1h2.7v2.7h-2.7zM458.1,466.6h2.7v2.7h-2.7zM453.4,469.1h2.7v2.7h-2.7zM457.8,473.9h2.7v2.7h-2.7zM457.4,466.7h2.7v2.7h-2.7zM460.5,474.3h2.7v2.7h-2.7zM460.1,472.9h2.7v2.7h-2.7zM463.1,478.1h2.7v2.7h-2.7zM460.8,475.1h2.7v2.7h-2.7zM459.9,479.9h2.7v2.7h-2.7zM459.4,478.0h2.7v2.7h-2.7zM459.3,477.9h2.7v2.7h-2.7zM460.1,477.0h2.7v2.7h-2.7zM459.0,479.1h2.7v2.7h-2.7zM459.9,483.0h2.7v2.7h-2.7zM460.0,482.8h2.7v2.7h-2.7zM459.5,483.1h2.7v2.7h-2.7zM459.1,486.1h2.7v2.7h-2.7zM465.5,486.0h2.7v2.7h-2.7zM465.1,486.0h2.7v2.7h-2.7zM463.8,486.7h2.7v2.7h-2.7zM464.7,486.9h2.7v2.7h-2.7zM461.2,487.1h2.7v2.7h-2.7zM463.2,489.0h2.7v2.7h-2.7zM464.2,491.4h2.7v2.7h-2.7zM463.8,487.8h2.7v2.7h-2.7zM461.0,493.1h2.7v2.7h-2.7zM463.1,494.4h2.7v2.7h-2.7zM464.1,493.9h2.7v2.7h-2.7zM463.4,497.1h2.7v2.7h-2.7zM464.4,496.2h2.7v2.7h-2.7zM463.1,495.4h2.7v2.7h-2.7zM460.5,499.3h2.7v2.7h-2.7zM463.2,498.8h2.7v2.7h-2.7zM463.2,501.4h2.7v2.7h-2.7zM466.1,501.2h2.7v2.7h-2.7zM464.7,502.6h2.7v2.7h-2.7zM465.6,501.8h2.7v2.7h-2.7zM465.6,503.7h2.7v2.7h-2.7zM462.9,501.1h2.7v2.7h-2.7zM467.5,508.1h2.7v2.7h-2.7zM468.5,505.8h2.7v2.7h-2.7zM466.3,506.4h2.7v2.7h-2.7zM469.6,508.4h2.7v2.7h-2.7zM467.4,513.5h2.7v2.7h-2.7zM473.2,509.9h2.7v2.7h-2.7zM470.6,510.2h2.7v2.7h-2.7zM472.2,509.5h2.7v2.7h-2.7zM471.9,507.8h2.7v2.7h-2.7zM473.9,513.2h2.7v2.7h-2.7z" fill="#0a0a0a"/>
<path d="M465.9,479.0h2.7v2.7h-2.7zM463.1,478.3h2.7v2.7h-2.7zM465.1,479.0h2.7v2.7h-2.7zM466.9,480.1h2.7v2.7h-2.7zM465.6,481.6h2.7v2.7h-2.7zM466.6,483.7h2.7v2.7h-2.7zM468.1,484.1h2.7v2.7h-2.7zM467.4,484.3h2.7v2.7h-2.7zM469.1,486.7h2.7v2.7h-2.7zM470.9,486.7h2.7v2.7h-2.7zM469.5,488.7h2.7v2.7h-2.7zM472.3,490.5h2.7v2.7h-2.7zM472.1,490.1h2.7v2.7h-2.7zM473.8,491.8h2.7v2.7h-2.7zM475.7,492.2h2.7v2.7h-2.7zM472.5,492.6h2.7v2.7h-2.7zM473.9,495.5h2.7v2.7h-2.7zM475.0,495.7h2.7v2.7h-2.7zM476.2,496.6h2.7v2.7h-2.7zM477.0,497.4h2.7v2.7h-2.7zM478.3,500.0h2.7v2.7h-2.7zM478.5,499.5h2.7v2.7h-2.7zM479.2,500.3h2.7v2.7h-2.7zM483.3,501.5h2.7v2.7h-2.7zM482.9,501.9h2.7v2.7h-2.7zM482.5,503.4h2.7v2.7h-2.7zM484.5,503.5h2.7v2.7h-2.7zM485.1,506.2h2.7v2.7h-2.7zM486.1,505.1h2.7v2.7h-2.7zM487.3,505.0h2.7v2.7h-2.7zM489.6,507.2h2.7v2.7h-2.7zM488.9,509.0h2.7v2.7h-2.7zM492.0,508.8h2.7v2.7h-2.7zM491.0,508.8h2.7v2.7h-2.7zM493.6,509.6h2.7v2.7h-2.7zM494.3,510.2h2.7v2.7h-2.7zM495.5,513.1h2.7v2.7h-2.7zM494.3,512.0h2.7v2.7h-2.7zM495.3,513.4h2.7v2.7h-2.7zM497.0,512.4h2.7v2.7h-2.7zM499.4,516.0h2.7v2.7h-2.7zM500.3,516.9h2.7v2.7h-2.7zM499.5,517.6h2.7v2.7h-2.7zM500.0,517.0h2.7v2.7h-2.7zM503.6,516.7h2.7v2.7h-2.7zM503.4,517.5h2.7v2.7h-2.7zM503.6,518.4h2.7v2.7h-2.7zM505.9,522.1h2.7v2.7h-2.7zM506.4,523.2h2.7v2.7h-2.7zM507.2,521.7h2.7v2.7h-2.7zM507.1,525.8h2.7v2.7h-2.7zM509.2,523.8h2.7v2.7h-2.7zM508.8,526.8h2.7v2.7h-2.7zM510.5,525.9h2.7v2.7h-2.7zM512.0,527.4h2.7v2.7h-2.7zM509.2,526.8h2.7v2.7h-2.7zM516.2,529.3h2.7v2.7h-2.7zM515.9,529.1h2.7v2.7h-2.7zM516.0,529.0h2.7v2.7h-2.7zM517.0,531.0h2.7v2.7h-2.7zM516.6,530.8h2.7v2.7h-2.7zM519.9,532.1h2.7v2.7h-2.7z" fill="#0a0a0a"/>
<path d="M500.2,540.9h2.7v2.7h-2.7zM504.2,538.7h2.7v2.7h-2.7zM503.4,537.6h2.7v2.7h-2.7zM505.5,535.0h2.7v2.7h-2.7zM507.1,533.8h2.7v2.7h-2.7zM506.3,537.8h2.7v2.7h-2.7zM510.2,533.8h2.7v2.7h-2.7zM509.1,536.8h2.7v2.7h-2.7zM508.9,533.2h2.7v2.7h-2.7zM511.4,533.7h2.7v2.7h-2.7zM510.5,536.7h2.7v2.7h-2.7zM510.4,531.5h2.7v2.7h-2.7zM515.7,532.0h2.7v2.7h-2.7zM514.6,533.2h2.7v2.7h-2.7zM520.3,533.6h2.7v2.7h-2.7zM517.0,529.8h2.7v2.7h-2.7zM519.5,534.5h2.7v2.7h-2.7zM517.8,531.1h2.7v2.7h-2.7zM522.4,530.4h2.7v2.7h-2.7zM521.4,531.3h2.7v2.7h-2.7zM525.5,531.5h2.7v2.7h-2.7zM524.9,528.6h2.7v2.7h-2.7zM525.5,529.1h2.7v2.7h-2.7zM527.6,530.0h2.7v2.7h-2.7zM528.5,526.9h2.7v2.7h-2.7zM528.0,527.4h2.7v2.7h-2.7zM530.8,526.2h2.7v2.7h-2.7zM530.3,527.4h2.7v2.7h-2.7zM534.8,527.1h2.7v2.7h-2.7zM532.6,527.4h2.7v2.7h-2.7zM534.4,525.5h2.7v2.7h-2.7zM537.4,525.1h2.7v2.7h-2.7zM539.0,526.2h2.7v2.7h-2.7zM538.3,526.4h2.7v2.7h-2.7zM537.9,527.2h2.7v2.7h-2.7zM540.1,526.7h2.7v2.7h-2.7zM541.9,522.8h2.7v2.7h-2.7zM543.6,525.3h2.7v2.7h-2.7zM544.8,527.5h2.7v2.7h-2.7zM546.3,524.4h2.7v2.7h-2.7zM547.7,525.1h2.7v2.7h-2.7zM547.8,526.0h2.7v2.7h-2.7zM549.1,524.3h2.7v2.7h-2.7zM549.1,526.0h2.7v2.7h-2.7zM552.1,523.8h2.7v2.7h-2.7zM552.6,522.9h2.7v2.7h-2.7zM553.3,526.1h2.7v2.7h-2.7zM553.9,524.5h2.7v2.7h-2.7zM556.6,524.2h2.7v2.7h-2.7zM556.7,523.6h2.7v2.7h-2.7zM558.7,526.3h2.7v2.7h-2.7zM559.7,526.4h2.7v2.7h-2.7zM560.0,527.5h2.7v2.7h-2.7zM562.1,527.0h2.7v2.7h-2.7zM560.0,526.2h2.7v2.7h-2.7zM565.4,527.5h2.7v2.7h-2.7zM566.3,525.2h2.7v2.7h-2.7zM566.3,525.1h2.7v2.7h-2.7zM571.1,527.6h2.7v2.7h-2.7zM567.9,526.8h2.7v2.7h-2.7zM569.7,525.0h2.7v2.7h-2.7zM570.9,525.7h2.7v2.7h-2.7zM573.8,526.7h2.7v2.7h-2.7zM573.8,526.1h2.7v2.7h-2.7zM577.4,525.5h2.7v2.7h-2.7zM576.7,526.8h2.7v2.7h-2.7zM577.5,523.5h2.7v2.7h-2.7zM578.6,527.3h2.7v2.7h-2.7zM580.2,527.9h2.7v2.7h-2.7zM582.7,528.1h2.7v2.7h-2.7zM583.2,527.5h2.7v2.7h-2.7zM582.5,526.0h2.7v2.7h-2.7zM582.0,524.6h2.7v2.7h-2.7zM587.4,522.8h2.7v2.7h-2.7zM585.5,523.6h2.7v2.7h-2.7zM590.1,524.3h2.7v2.7h-2.7zM588.1,524.5h2.7v2.7h-2.7zM590.0,521.0h2.7v2.7h-2.7zM592.5,520.2h2.7v2.7h-2.7zM592.6,520.1h2.7v2.7h-2.7zM593.9,518.7h2.7v2.7h-2.7zM590.2,520.2h2.7v2.7h-2.7zM595.7,517.7h2.7v2.7h-2.7zM593.7,520.0h2.7v2.7h-2.7zM597.0,519.1h2.7v2.7h-2.7zM596.4,518.1h2.7v2.7h-2.7zM600.1,520.4h2.7v2.7h-2.7zM598.5,520.7h2.7v2.7h-2.7zM601.9,518.8h2.7v2.7h-2.7zM602.8,521.0h2.7v2.7h-2.7zM603.4,518.3h2.7v2.7h-2.7zM604.7,520.1h2.7v2.7h-2.7zM607.3,520.0h2.7v2.7h-2.7zM607.9,518.5h2.7v2.7h-2.7zM611.1,518.7h2.7v2.7h-2.7zM609.5,520.8h2.7v2.7h-2.7zM609.5,519.9h2.7v2.7h-2.7z" fill="#0a0a0a"/>
<path d="M631.8,447.5h2.7v2.7h-2.7zM638.0,450.2h2.7v2.7h-2.7zM634.5,448.0h2.7v2.7h-2.7zM634.9,449.7h2.7v2.7h-2.7zM635.3,451.5h2.7v2.7h-2.7zM636.6,455.1h2.7v2.7h-2.7zM635.5,455.3h2.7v2.7h-2.7zM634.2,455.4h2.7v2.7h-2.7zM636.6,454.6h2.7v2.7h-2.7zM636.4,460.7h2.7v2.7h-2.7zM635.2,460.3h2.7v2.7h-2.7zM635.4,460.3h2.7v2.7h-2.7zM635.6,461.5h2.7v2.7h-2.7zM636.6,464.7h2.7v2.7h-2.7zM640.2,463.9h2.7v2.7h-2.7zM639.8,461.8h2.7v2.7h-2.7zM636.7,463.9h2.7v2.7h-2.7zM640.6,466.0h2.7v2.7h-2.7zM639.4,468.6h2.7v2.7h-2.7zM638.6,470.1h2.7v2.7h-2.7zM640.3,468.4h2.7v2.7h-2.7zM643.0,472.8h2.7v2.7h-2.7zM641.5,472.7h2.7v2.7h-2.7zM643.5,468.7h2.7v2.7h-2.7zM641.3,472.1h2.7v2.7h-2.7zM645.1,474.9h2.7v2.7h-2.7zM641.6,472.5h2.7v2.7h-2.7zM646.2,475.8h2.7v2.7h-2.7zM643.2,479.0h2.7v2.7h-2.7zM643.3,479.0h2.7v2.7h-2.7zM642.1,480.3h2.7v2.7h-2.7zM642.7,478.3h2.7v2.7h-2.7zM646.3,480.9h2.7v2.7h-2.7zM641.2,482.5h2.7v2.7h-2.7zM642.9,483.6h2.7v2.7h-2.7zM641.1,486.1h2.7v2.7h-2.7zM637.9,486.2h2.7v2.7h-2.7zM641.5,486.5h2.7v2.7h-2.7zM641.3,487.5h2.7v2.7h-2.7zM637.9,485.9h2.7v2.7h-2.7zM640.4,490.0h2.7v2.7h-2.7zM640.5,487.6h2.7v2.7h-2.7zM639.4,491.3h2.7v2.7h-2.7zM640.2,493.7h2.7v2.7h-2.7zM640.7,494.4h2.7v2.7h-2.7zM640.6,494.2h2.7v2.7h-2.7zM639.2,494.1h2.7v2.7h-2.7zM637.5,496.9h2.7v2.7h-2.7zM637.2,496.9h2.7v2.7h-2.7zM637.8,500.1h2.7v2.7h-2.7zM638.0,503.1h2.7v2.7h-2.7zM638.1,501.7h2.7v2.7h-2.7zM639.9,502.5h2.7v2.7h-2.7zM636.9,502.7h2.7v2.7h-2.7zM637.3,503.2h2.7v2.7h-2.7zM636.1,510.7h2.7v2.7h-2.7zM638.3,505.8h2.7v2.7h-2.7zM638.0,507.1h2.7v2.7h-2.7zM635.8,509.8h2.7v2.7h-2.7zM635.7,507.3h2.7v2.7h-2.7zM635.7,511.2h2.7v2.7h-2.7zM634.3,511.5h2.7v2.7h-2.7zM635.3,513.3h2.7v2.7h-2.7zM635.3,512.3h2.7v2.7h-2.7zM635.5,516.4h2.7v2.7h-2.7zM634.1,517.2h2.7v2.7h-2.7zM634.7,513.3h2.7v2.7h-2.7zM637.1,521.3h2.7v2.7h-2.7zM635.2,518.6h2.7v2.7h-2.7zM635.0,523.1h2.7v2.7h-2.7zM634.4,520.1h2.7v2.7h-2.7zM635.8,524.5h2.7v2.7h-2.7zM635.5,524.3h2.7v2.7h-2.7zM634.4,528.0h2.7v2.7h-2.7zM633.0,526.4h2.7v2.7h-2.7zM634.4,528.8h2.7v2.7h-2.7zM636.2,527.3h2.7v2.7h-2.7zM636.8,531.5h2.7v2.7h-2.7zM634.8,530.1h2.7v2.7h-2.7zM636.0,531.8h2.7v2.7h-2.7zM636.7,532.4h2.7v2.7h-2.7zM635.3,534.0h2.7v2.7h-2.7zM634.9,534.3h2.7v2.7h-2.7z" fill="#0a0a0a"/>
<path d="M579.8,386.7h2.7v2.7h-2.7zM579.5,383.9h2.7v2.7h-2.7zM580.2,382.2h2.7v2.7h-2.7zM582.1,385.0h2.7v2.7h-2.7zM583.9,385.7h2.7v2.7h-2.7zM582.0,386.1h2.7v2.7h-2.7zM586.4,386.5h2.7v2.7h-2.7zM585.6,387.2h2.7v2.7h-2.7zM589.9,387.4h2.7v2.7h-2.7zM586.3,389.5h2.7v2.7h-2.7zM590.0,388.3h2.7v2.7h-2.7zM590.7,389.1h2.7v2.7h-2.7zM590.4,391.5h2.7v2.7h-2.7zM595.4,391.7h2.7v2.7h-2.7zM594.0,390.6h2.7v2.7h-2.7zM596.0,392.6h2.7v2.7h-2.7zM594.7,394.4h2.7v2.7h-2.7zM596.9,396.0h2.7v2.7h-2.7zM596.9,394.5h2.7v2.7h-2.7zM597.8,396.9h2.7v2.7h-2.7zM599.6,395.0h2.7v2.7h-2.7zM600.1,394.3h2.7v2.7h-2.7zM598.1,392.5h2.7v2.7h-2.7zM605.5,396.6h2.7v2.7h-2.7zM602.3,397.7h2.7v2.7h-2.7zM602.3,397.6h2.7v2.7h-2.7zM604.3,399.6h2.7v2.7h-2.7zM605.9,399.1h2.7v2.7h-2.7zM609.2,398.0h2.7v2.7h-2.7zM609.5,401.7h2.7v2.7h-2.7zM610.3,399.7h2.7v2.7h-2.7zM610.7,399.1h2.7v2.7h-2.7zM612.3,399.5h2.7v2.7h-2.7zM612.9,401.3h2.7v2.7h-2.7zM615.3,399.4h2.7v2.7h-2.7zM613.0,400.1h2.7v2.7h-2.7zM616.5,401.8h2.7v2.7h-2.7zM616.0,405.4h2.7v2.7h-2.7zM615.4,405.1h2.7v2.7h-2.7zM617.0,404.9h2.7v2.7h-2.7zM619.1,408.1h2.7v2.7h-2.7zM618.2,406.1h2.7v2.7h-2.7zM618.6,411.1h2.7v2.7h-2.7zM620.3,406.4h2.7v2.7h-2.7zM618.9,408.2h2.7v2.7h-2.7zM621.5,410.6h2.7v2.7h-2.7zM623.5,413.1h2.7v2.7h-2.7zM624.6,414.6h2.7v2.7h-2.7zM621.8,414.6h2.7v2.7h-2.7zM622.7,411.2h2.7v2.7h-2.7zM623.9,413.8h2.7v2.7h-2.7zM624.4,413.7h2.7v2.7h-2.7zM629.7,416.2h2.7v2.7h-2.7zM623.6,417.5h2.7v2.7h-2.7zM627.3,418.8h2.7v2.7h-2.7zM629.1,418.9h2.7v2.7h-2.7zM629.2,422.2h2.7v2.7h-2.7zM627.6,423.6h2.7v2.7h-2.7zM629.8,423.7h2.7v2.7h-2.7zM626.3,422.1h2.7v2.7h-2.7zM628.0,424.5h2.7v2.7h-2.7zM625.5,422.3h2.7v2.7h-2.7zM627.5,427.5h2.7v2.7h-2.7zM629.4,428.2h2.7v2.7h-2.7zM629.1,428.3h2.7v2.7h-2.7zM629.3,432.4h2.7v2.7h-2.7zM630.2,429.2h2.7v2.7h-2.7zM630.4,432.7h2.7v2.7h-2.7zM631.9,429.8h2.7v2.7h-2.7zM632.3,434.0h2.7v2.7h-2.7zM632.6,435.6h2.7v2.7h-2.7zM631.3,433.4h2.7v2.7h-2.7zM631.0,437.1h2.7v2.7h-2.7zM635.2,440.0h2.7v2.7h-2.7zM630.4,438.6h2.7v2.7h-2.7zM634.7,439.4h2.7v2.7h-2.7zM633.2,439.8h2.7v2.7h-2.7zM634.3,442.6h2.7v2.7h-2.7zM634.0,441.0h2.7v2.7h-2.7zM634.9,445.7h2.7v2.7h-2.7zM634.0,444.8h2.7v2.7h-2.7z" fill="#0a0a0a"/>
<path d="M481.0,387.1h2.7v2.7h-2.7zM483.0,389.5h2.7v2.7h-2.7zM484.2,383.6h2.7v2.7h-2.7zM484.8,387.0h2.7v2.7h-2.7zM487.9,387.5h2.7v2.7h-2.7zM487.7,385.5h2.7v2.7h-2.7zM486.5,386.6h2.7v2.7h-2.7zM488.4,389.3h2.7v2.7h-2.7zM490.3,383.6h2.7v2.7h-2.7zM492.1,388.8h2.7v2.7h-2.7zM493.7,388.3h2.7v2.7h-2.7zM497.9,386.9h2.7v2.7h-2.7zM495.2,387.6h2.7v2.7h-2.7zM497.9,386.3h2.7v2.7h-2.7zM496.4,386.6h2.7v2.7h-2.7zM501.4,386.6h2.7v2.7h-2.7zM498.9,384.5h2.7v2.7h-2.7zM504.4,381.9h2.7v2.7h-2.7zM504.5,381.8h2.7v2.7h-2.7zM502.7,385.4h2.7v2.7h-2.7zM503.9,381.9h2.7v2.7h-2.7zM505.8,382.2h2.7v2.7h-2.7zM504.9,382.7h2.7v2.7h-2.7zM508.4,380.8h2.7v2.7h-2.7zM509.6,381.0h2.7v2.7h-2.7zM510.3,380.7h2.7v2.7h-2.7zM510.9,378.3h2.7v2.7h-2.7zM513.8,376.4h2.7v2.7h-2.7zM514.8,378.7h2.7v2.7h-2.7zM514.1,377.2h2.7v2.7h-2.7zM514.2,377.9h2.7v2.7h-2.7zM516.2,379.9h2.7v2.7h-2.7zM519.6,378.9h2.7v2.7h-2.7zM519.2,378.6h2.7v2.7h-2.7zM520.0,378.3h2.7v2.7h-2.7zM522.2,378.7h2.7v2.7h-2.7zM523.3,376.2h2.7v2.7h-2.7zM524.5,377.3h2.7v2.7h-2.7zM523.4,377.2h2.7v2.7h-2.7zM526.5,377.3h2.7v2.7h-2.7zM526.7,376.7h2.7v2.7h-2.7zM530.3,378.9h2.7v2.7h-2.7zM527.8,379.8h2.7v2.7h-2.7zM531.0,378.7h2.7v2.7h-2.7zM530.5,378.9h2.7v2.7h-2.7zM534.9,377.4h2.7v2.7h-2.7zM532.5,379.4h2.7v2.7h-2.7zM536.3,379.2h2.7v2.7h-2.7zM537.7,378.2h2.7v2.7h-2.7zM539.1,377.4h2.7v2.7h-2.7zM538.5,376.5h2.7v2.7h-2.7zM539.3,381.6h2.7v2.7h-2.7zM541.6,377.1h2.7v2.7h-2.7zM539.2,378.2h2.7v2.7h-2.7zM542.9,375.9h2.7v2.7h-2.7zM542.6,380.3h2.7v2.7h-2.7zM544.1,378.7h2.7v2.7h-2.7zM548.7,378.3h2.7v2.7h-2.7zM546.1,379.8h2.7v2.7h-2.7zM550.4,378.3h2.7v2.7h-2.7zM550.5,380.7h2.7v2.7h-2.7zM551.4,378.0h2.7v2.7h-2.7zM555.0,375.3h2.7v2.7h-2.7zM555.3,376.9h2.7v2.7h-2.7zM555.6,376.8h2.7v2.7h-2.7zM555.7,378.0h2.7v2.7h-2.7zM558.5,378.7h2.7v2.7h-2.7zM558.1,377.1h2.7v2.7h-2.7zM559.3,376.0h2.7v2.7h-2.7zM561.6,373.3h2.7v2.7h-2.7zM563.9,372.5h2.7v2.7h-2.7zM559.3,372.4h2.7v2.7h-2.7zM567.3,371.7h2.7v2.7h-2.7zM563.7,373.5h2.7v2.7h-2.7zM567.0,378.2h2.7v2.7h-2.7zM570.5,372.3h2.7v2.7h-2.7zM570.3,373.4h2.7v2.7h-2.7zM571.4,372.8h2.7v2.7h-2.7zM572.9,373.1h2.7v2.7h-2.7zM571.5,371.4h2.7v2.7h-2.7zM574.8,373.6h2.7v2.7h-2.7zM574.2,371.5h2.7v2.7h-2.7zM577.3,372.6h2.7v2.7h-2.7zM576.7,370.1h2.7v2.7h-2.7zM577.7,372.1h2.7v2.7h-2.7zM580.6,371.6h2.7v2.7h-2.7zM579.9,374.7h2.7v2.7h-2.7zM583.5,372.7h2.7v2.7h-2.7z" fill="#0a0a0a"/>
<path d="M637.1,433.9h2.7v2.7h-2.7zM639.2,440.9h2.7v2.7h-2.7zM639.3,443.9h2.7v2.7h-2.7zM639.2,447.8h2.7v2.7h-2.7zM640.3,450.8h2.7v2.7h-2.7zM637.5,455.3h2.7v2.7h-2.7zM639.3,452.8h2.7v2.7h-2.7zM643.2,459.6h2.7v2.7h-2.7zM648.5,461.7h2.7v2.7h-2.7zM645.9,461.9h2.7v2.7h-2.7zM645.6,467.4h2.7v2.7h-2.7zM643.8,471.3h2.7v2.7h-2.7zM648.3,471.6h2.7v2.7h-2.7zM644.7,473.7h2.7v2.7h-2.7zM647.8,477.0h2.7v2.7h-2.7zM652.0,482.4h2.7v2.7h-2.7zM649.1,485.7h2.7v2.7h-2.7zM646.0,483.6h2.7v2.7h-2.7zM644.1,489.8h2.7v2.7h-2.7zM647.7,493.1h2.7v2.7h-2.7zM647.7,494.0h2.7v2.7h-2.7zM642.5,499.9h2.7v2.7h-2.7zM642.4,502.4h2.7v2.7h-2.7zM642.8,502.5h2.7v2.7h-2.7zM643.2,506.5h2.7v2.7h-2.7zM642.3,510.4h2.7v2.7h-2.7zM640.6,514.3h2.7v2.7h-2.7zM641.5,514.3h2.7v2.7h-2.7zM642.8,518.6h2.7v2.7h-2.7zM639.1,521.2h2.7v2.7h-2.7zM637.8,523.8h2.7v2.7h-2.7z" fill="#0a0a0a"/>
<path d="M567.7,455.0h2.5v2.5h-2.5zM567.8,452.2h2.5v2.5h-2.5zM565.4,453.1h2.5v2.5h-2.5zM572.3,455.2h2.5v2.5h-2.5zM572.0,455.2h2.5v2.5h-2.5zM569.9,455.0h2.5v2.5h-2.5zM562.8,457.8h2.5v2.5h-2.5zM570.2,456.6h2.5v2.5h-2.5zM562.7,449.5h2.5v2.5h-2.5zM565.4,453.9h2.5v2.5h-2.5zM569.4,455.8h2.5v2.5h-2.5zM570.1,453.8h2.5v2.5h-2.5zM569.3,457.9h2.5v2.5h-2.5zM566.0,462.4h2.5v2.5h-2.5zM570.1,461.1h2.5v2.5h-2.5zM566.1,454.6h2.5v2.5h-2.5zM566.9,457.3h2.5v2.5h-2.5zM570.2,458.5h2.5v2.5h-2.5zM566.4,454.9h2.5v2.5h-2.5zM566.2,462.3h2.5v2.5h-2.5zM565.1,459.5h2.5v2.5h-2.5zM569.3,453.6h2.5v2.5h-2.5zM567.8,463.7h2.5v2.5h-2.5zM560.8,458.1h2.5v2.5h-2.5zM567.1,457.0h2.5v2.5h-2.5zM569.2,459.5h2.5v2.5h-2.5zM562.3,463.1h2.5v2.5h-2.5zM569.6,463.5h2.5v2.5h-2.5zM572.0,462.0h2.5v2.5h-2.5zM567.5,456.4h2.5v2.5h-2.5zM569.0,459.2h2.5v2.5h-2.5zM565.4,457.0h2.5v2.5h-2.5zM563.4,460.0h2.5v2.5h-2.5zM571.1,454.9h2.5v2.5h-2.5zM561.5,463.1h2.5v2.5h-2.5zM571.4,464.3h2.5v2.5h-2.5zM559.8,454.2h2.5v2.5h-2.5zM567.4,460.3h2.5v2.5h-2.5zM562.2,466.6h2.5v2.5h-2.5zM569.7,463.8h2.5v2.5h-2.5zM566.5,465.2h2.5v2.5h-2.5zM571.1,465.8h2.5v2.5h-2.5zM567.2,466.1h2.5v2.5h-2.5zM560.1,468.6h2.5v2.5h-2.5zM568.4,466.5h2.5v2.5h-2.5zM558.4,462.5h2.5v2.5h-2.5zM567.7,459.0h2.5v2.5h-2.5zM564.2,468.6h2.5v2.5h-2.5zM560.0,471.1h2.5v2.5h-2.5zM566.4,465.1h2.5v2.5h-2.5zM565.3,468.2h2.5v2.5h-2.5zM564.6,469.9h2.5v2.5h-2.5zM561.6,465.1h2.5v2.5h-2.5zM567.4,466.6h2.5v2.5h-2.5zM560.5,470.1h2.5v2.5h-2.5zM568.5,465.4h2.5v2.5h-2.5zM558.4,466.8h2.5v2.5h-2.5zM562.6,466.3h2.5v2.5h-2.5zM567.5,464.2h2.5v2.5h-2.5zM567.0,463.4h2.5v2.5h-2.5zM559.7,470.3h2.5v2.5h-2.5zM566.2,471.0h2.5v2.5h-2.5zM563.2,469.0h2.5v2.5h-2.5zM562.5,470.4h2.5v2.5h-2.5zM561.0,469.8h2.5v2.5h-2.5zM563.5,468.9h2.5v2.5h-2.5zM563.8,471.2h2.5v2.5h-2.5zM568.0,470.3h2.5v2.5h-2.5zM559.3,468.3h2.5v2.5h-2.5zM560.7,472.7h2.5v2.5h-2.5zM559.2,471.3h2.5v2.5h-2.5zM566.6,461.2h2.5v2.5h-2.5zM556.1,471.1h2.5v2.5h-2.5zM561.3,471.1h2.5v2.5h-2.5zM558.0,472.8h2.5v2.5h-2.5zM560.4,468.8h2.5v2.5h-2.5zM567.3,472.1h2.5v2.5h-2.5zM557.1,470.6h2.5v2.5h-2.5zM557.8,471.0h2.5v2.5h-2.5zM549.3,469.6h2.5v2.5h-2.5zM561.5,467.6h2.5v2.5h-2.5zM557.9,474.8h2.5v2.5h-2.5zM560.5,476.9h2.5v2.5h-2.5zM551.8,470.6h2.5v2.5h-2.5zM556.0,474.2h2.5v2.5h-2.5zM560.9,463.0h2.5v2.5h-2.5zM560.4,467.4h2.5v2.5h-2.5zM559.0,467.3h2.5v2.5h-2.5zM556.8,476.7h2.5v2.5h-2.5zM555.7,473.3h2.5v2.5h-2.5zM558.4,473.3h2.5v2.5h-2.5zM555.4,478.1h2.5v2.5h-2.5zM558.8,472.1h2.5v2.5h-2.5zM564.5,469.2h2.5v2.5h-2.5zM557.8,472.4h2.5v2.5h-2.5zM555.1,475.7h2.5v2.5h-2.5zM554.9,475.7h2.5v2.5h-2.5zM549.0,468.4h2.5v2.5h-2.5zM555.8,470.4h2.5v2.5h-2.5zM550.2,468.7h2.5v2.5h-2.5zM557.4,476.4h2.5v2.5h-2.5zM558.1,470.7h2.5v2.5h-2.5zM552.6,470.2h2.5v2.5h-2.5zM555.2,479.5h2.5v2.5h-2.5zM549.1,479.5h2.5v2.5h-2.5zM555.5,473.6h2.5v2.5h-2.5zM544.9,479.2h2.5v2.5h-2.5zM551.2,472.3h2.5v2.5h-2.5zM552.4,475.9h2.5v2.5h-2.5zM556.1,471.1h2.5v2.5h-2.5zM554.4,479.7h2.5v2.5h-2.5zM555.4,474.0h2.5v2.5h-2.5zM547.4,478.2h2.5v2.5h-2.5zM550.4,475.2h2.5v2.5h-2.5zM554.3,474.0h2.5v2.5h-2.5zM541.6,473.5h2.5v2.5h-2.5zM542.6,477.7h2.5v2.5h-2.5zM550.0,472.9h2.5v2.5h-2.5zM548.3,477.9h2.5v2.5h-2.5zM548.6,479.5h2.5v2.5h-2.5zM547.6,478.6h2.5v2.5h-2.5zM552.9,480.6h2.5v2.5h-2.5zM545.0,478.1h2.5v2.5h-2.5zM540.9,471.5h2.5v2.5h-2.5zM540.0,478.8h2.5v2.5h-2.5zM542.5,475.1h2.5v2.5h-2.5zM545.5,475.1h2.5v2.5h-2.5zM544.1,476.0h2.5v2.5h-2.5zM551.7,475.4h2.5v2.5h-2.5zM547.4,478.6h2.5v2.5h-2.5zM544.4,471.0h2.5v2.5h-2.5zM543.2,478.9h2.5v2.5h-2.5zM538.9,473.2h2.5v2.5h-2.5zM547.9,477.9h2.5v2.5h-2.5zM544.0,478.0h2.5v2.5h-2.5zM544.5,471.2h2.5v2.5h-2.5zM538.1,473.0h2.5v2.5h-2.5zM546.5,473.3h2.5v2.5h-2.5zM539.8,472.5h2.5v2.5h-2.5zM537.6,474.7h2.5v2.5h-2.5zM538.3,476.3h2.5v2.5h-2.5zM534.3,476.2h2.5v2.5h-2.5zM539.6,468.4h2.5v2.5h-2.5zM544.2,474.1h2.5v2.5h-2.5zM533.6,472.0h2.5v2.5h-2.5zM542.2,473.4h2.5v2.5h-2.5zM543.3,477.4h2.5v2.5h-2.5zM542.9,476.0h2.5v2.5h-2.5zM544.7,477.0h2.5v2.5h-2.5zM541.7,467.7h2.5v2.5h-2.5zM542.6,479.1h2.5v2.5h-2.5zM538.6,473.0h2.5v2.5h-2.5zM545.6,468.5h2.5v2.5h-2.5zM540.6,482.8h2.5v2.5h-2.5zM535.4,476.7h2.5v2.5h-2.5zM544.9,474.0h2.5v2.5h-2.5zM539.9,477.3h2.5v2.5h-2.5zM534.9,473.9h2.5v2.5h-2.5zM538.5,476.9h2.5v2.5h-2.5zM537.3,473.4h2.5v2.5h-2.5zM533.5,472.7h2.5v2.5h-2.5zM540.0,474.2h2.5v2.5h-2.5zM533.5,470.8h2.5v2.5h-2.5zM545.5,477.6h2.5v2.5h-2.5zM538.1,464.7h2.5v2.5h-2.5zM538.0,475.1h2.5v2.5h-2.5zM541.1,474.8h2.5v2.5h-2.5zM535.2,475.1h2.5v2.5h-2.5zM528.3,476.6h2.5v2.5h-2.5zM536.0,470.7h2.5v2.5h-2.5zM538.9,479.0h2.5v2.5h-2.5zM529.6,470.6h2.5v2.5h-2.5zM534.9,473.2h2.5v2.5h-2.5zM532.5,469.3h2.5v2.5h-2.5zM540.6,475.9h2.5v2.5h-2.5zM529.4,467.8h2.5v2.5h-2.5zM538.7,475.5h2.5v2.5h-2.5zM539.1,474.8h2.5v2.5h-2.5zM529.5,472.7h2.5v2.5h-2.5zM525.1,469.3h2.5v2.5h-2.5zM531.8,473.3h2.5v2.5h-2.5zM529.5,471.1h2.5v2.5h-2.5zM533.1,472.5h2.5v2.5h-2.5zM533.7,471.9h2.5v2.5h-2.5zM530.0,473.6h2.5v2.5h-2.5zM531.2,468.1h2.5v2.5h-2.5zM528.5,470.6h2.5v2.5h-2.5zM530.3,471.1h2.5v2.5h-2.5zM530.2,470.9h2.5v2.5h-2.5zM529.7,466.0h2.5v2.5h-2.5zM531.2,473.5h2.5v2.5h-2.5zM531.2,469.3h2.5v2.5h-2.5zM530.8,466.3h2.5v2.5h-2.5zM522.9,469.8h2.5v2.5h-2.5zM525.7,471.7h2.5v2.5h-2.5zM525.2,460.3h2.5v2.5h-2.5zM525.0,474.2h2.5v2.5h-2.5zM527.2,464.2h2.5v2.5h-2.5zM525.5,470.3h2.5v2.5h-2.5zM529.8,469.1h2.5v2.5h-2.5zM532.8,470.5h2.5v2.5h-2.5zM527.6,470.1h2.5v2.5h-2.5zM533.0,471.0h2.5v2.5h-2.5zM530.8,464.0h2.5v2.5h-2.5zM526.5,469.8h2.5v2.5h-2.5zM526.0,470.9h2.5v2.5h-2.5zM528.6,470.0h2.5v2.5h-2.5zM525.9,475.5h2.5v2.5h-2.5zM530.5,465.7h2.5v2.5h-2.5zM526.6,475.3h2.5v2.5h-2.5zM524.7,469.0h2.5v2.5h-2.5zM529.2,466.0h2.5v2.5h-2.5zM521.6,466.2h2.5v2.5h-2.5zM526.8,469.4h2.5v2.5h-2.5zM527.9,465.2h2.5v2.5h-2.5zM528.2,467.0h2.5v2.5h-2.5zM525.7,464.9h2.5v2.5h-2.5zM524.1,467.0h2.5v2.5h-2.5zM521.1,462.1h2.5v2.5h-2.5zM524.7,459.2h2.5v2.5h-2.5zM522.9,456.9h2.5v2.5h-2.5zM522.1,465.7h2.5v2.5h-2.5zM526.0,463.1h2.5v2.5h-2.5zM523.3,458.4h2.5v2.5h-2.5zM530.1,464.5h2.5v2.5h-2.5zM527.6,459.8h2.5v2.5h-2.5zM523.0,456.1h2.5v2.5h-2.5zM526.3,465.5h2.5v2.5h-2.5zM516.9,461.6h2.5v2.5h-2.5zM525.5,455.8h2.5v2.5h-2.5zM517.0,457.6h2.5v2.5h-2.5zM521.0,456.5h2.5v2.5h-2.5zM523.1,461.6h2.5v2.5h-2.5zM525.1,463.1h2.5v2.5h-2.5zM527.9,464.2h2.5v2.5h-2.5zM518.3,458.5h2.5v2.5h-2.5zM519.0,456.1h2.5v2.5h-2.5zM522.3,459.7h2.5v2.5h-2.5zM524.1,453.8h2.5v2.5h-2.5zM518.2,459.1h2.5v2.5h-2.5zM521.6,457.6h2.5v2.5h-2.5zM522.1,456.1h2.5v2.5h-2.5zM524.5,459.3h2.5v2.5h-2.5zM521.8,455.8h2.5v2.5h-2.5zM521.4,448.3h2.5v2.5h-2.5zM518.7,457.7h2.5v2.5h-2.5zM516.8,457.7h2.5v2.5h-2.5zM522.4,452.4h2.5v2.5h-2.5zM521.0,455.5h2.5v2.5h-2.5zM523.4,458.6h2.5v2.5h-2.5zM521.6,453.1h2.5v2.5h-2.5zM521.2,455.8h2.5v2.5h-2.5zM524.2,456.4h2.5v2.5h-2.5zM519.2,450.8h2.5v2.5h-2.5zM520.4,452.4h2.5v2.5h-2.5zM517.8,454.5h2.5v2.5h-2.5zM519.9,454.7h2.5v2.5h-2.5zM523.4,452.9h2.5v2.5h-2.5zM529.5,452.7h2.5v2.5h-2.5zM525.3,454.2h2.5v2.5h-2.5zM525.3,445.2h2.5v2.5h-2.5zM519.0,454.1h2.5v2.5h-2.5zM523.6,460.6h2.5v2.5h-2.5zM522.7,457.0h2.5v2.5h-2.5zM524.2,455.4h2.5v2.5h-2.5zM523.3,451.6h2.5v2.5h-2.5zM523.4,447.9h2.5v2.5h-2.5zM525.6,448.1h2.5v2.5h-2.5zM522.5,458.2h2.5v2.5h-2.5zM520.9,451.1h2.5v2.5h-2.5zM525.7,450.6h2.5v2.5h-2.5zM519.0,451.4h2.5v2.5h-2.5zM523.8,452.4h2.5v2.5h-2.5zM519.2,455.9h2.5v2.5h-2.5zM527.6,449.5h2.5v2.5h-2.5zM522.8,447.9h2.5v2.5h-2.5zM526.8,446.5h2.5v2.5h-2.5zM524.3,447.2h2.5v2.5h-2.5zM519.8,450.8h2.5v2.5h-2.5zM526.7,448.3h2.5v2.5h-2.5zM520.0,450.6h2.5v2.5h-2.5zM522.1,448.9h2.5v2.5h-2.5zM527.6,451.1h2.5v2.5h-2.5zM520.7,455.0h2.5v2.5h-2.5zM522.6,449.4h2.5v2.5h-2.5zM520.4,446.6h2.5v2.5h-2.5zM516.8,452.3h2.5v2.5h-2.5zM527.4,442.1h2.5v2.5h-2.5zM517.9,440.2h2.5v2.5h-2.5zM527.0,444.1h2.5v2.5h-2.5zM523.0,444.1h2.5v2.5h-2.5zM522.8,441.5h2.5v2.5h-2.5zM523.5,439.8h2.5v2.5h-2.5zM523.2,445.7h2.5v2.5h-2.5zM525.2,443.4h2.5v2.5h-2.5zM520.6,444.7h2.5v2.5h-2.5zM522.2,449.0h2.5v2.5h-2.5zM526.5,443.3h2.5v2.5h-2.5zM522.5,440.8h2.5v2.5h-2.5zM520.9,442.0h2.5v2.5h-2.5zM525.4,444.5h2.5v2.5h-2.5zM526.3,449.9h2.5v2.5h-2.5zM522.3,442.3h2.5v2.5h-2.5zM534.2,435.9h2.5v2.5h-2.5zM523.2,442.4h2.5v2.5h-2.5zM525.5,443.2h2.5v2.5h-2.5zM524.5,442.6h2.5v2.5h-2.5zM525.5,444.0h2.5v2.5h-2.5zM519.2,437.9h2.5v2.5h-2.5zM525.6,437.4h2.5v2.5h-2.5zM522.4,442.6h2.5v2.5h-2.5zM523.7,442.6h2.5v2.5h-2.5zM528.8,441.1h2.5v2.5h-2.5zM528.0,439.7h2.5v2.5h-2.5zM521.8,439.5h2.5v2.5h-2.5zM528.2,437.8h2.5v2.5h-2.5zM526.6,441.7h2.5v2.5h-2.5zM524.0,441.4h2.5v2.5h-2.5zM533.7,436.9h2.5v2.5h-2.5zM527.9,438.3h2.5v2.5h-2.5zM533.0,439.5h2.5v2.5h-2.5zM530.8,436.0h2.5v2.5h-2.5zM528.1,438.0h2.5v2.5h-2.5zM522.1,442.9h2.5v2.5h-2.5zM531.6,431.7h2.5v2.5h-2.5zM531.1,437.2h2.5v2.5h-2.5zM530.5,438.5h2.5v2.5h-2.5zM523.8,436.5h2.5v2.5h-2.5zM534.4,434.9h2.5v2.5h-2.5zM525.9,432.3h2.5v2.5h-2.5zM525.6,437.7h2.5v2.5h-2.5zM535.5,438.0h2.5v2.5h-2.5zM531.0,443.8h2.5v2.5h-2.5zM528.4,433.9h2.5v2.5h-2.5zM532.4,437.7h2.5v2.5h-2.5zM527.2,431.9h2.5v2.5h-2.5zM532.1,436.4h2.5v2.5h-2.5zM526.7,434.9h2.5v2.5h-2.5zM529.7,436.8h2.5v2.5h-2.5zM531.2,435.0h2.5v2.5h-2.5zM530.8,438.5h2.5v2.5h-2.5zM536.7,433.7h2.5v2.5h-2.5zM535.4,432.1h2.5v2.5h-2.5zM532.7,437.2h2.5v2.5h-2.5zM538.1,433.1h2.5v2.5h-2.5zM532.7,435.1h2.5v2.5h-2.5zM528.4,434.2h2.5v2.5h-2.5zM531.1,435.4h2.5v2.5h-2.5zM530.1,427.2h2.5v2.5h-2.5zM534.1,434.8h2.5v2.5h-2.5zM532.6,436.6h2.5v2.5h-2.5zM533.5,431.6h2.5v2.5h-2.5zM536.6,428.1h2.5v2.5h-2.5zM532.6,433.3h2.5v2.5h-2.5zM538.3,432.6h2.5v2.5h-2.5zM536.5,431.0h2.5v2.5h-2.5zM537.0,438.6h2.5v2.5h-2.5zM533.6,441.0h2.5v2.5h-2.5zM534.3,432.8h2.5v2.5h-2.5zM537.0,436.3h2.5v2.5h-2.5zM532.8,425.5h2.5v2.5h-2.5zM539.0,435.3h2.5v2.5h-2.5zM539.6,441.4h2.5v2.5h-2.5zM538.2,433.3h2.5v2.5h-2.5zM541.2,433.5h2.5v2.5h-2.5zM543.7,428.1h2.5v2.5h-2.5zM537.3,420.4h2.5v2.5h-2.5zM541.3,430.8h2.5v2.5h-2.5zM542.2,439.3h2.5v2.5h-2.5zM539.1,431.1h2.5v2.5h-2.5zM537.9,429.0h2.5v2.5h-2.5zM537.5,434.0h2.5v2.5h-2.5zM540.3,432.0h2.5v2.5h-2.5zM539.6,434.8h2.5v2.5h-2.5zM542.4,431.2h2.5v2.5h-2.5zM543.0,431.1h2.5v2.5h-2.5zM537.3,436.5h2.5v2.5h-2.5zM542.8,428.3h2.5v2.5h-2.5zM545.5,432.6h2.5v2.5h-2.5zM536.5,436.9h2.5v2.5h-2.5zM543.5,434.4h2.5v2.5h-2.5zM543.0,430.9h2.5v2.5h-2.5zM537.6,434.7h2.5v2.5h-2.5zM543.0,430.4h2.5v2.5h-2.5zM544.6,431.6h2.5v2.5h-2.5zM545.7,430.0h2.5v2.5h-2.5zM543.9,424.0h2.5v2.5h-2.5zM542.5,433.6h2.5v2.5h-2.5zM549.1,430.0h2.5v2.5h-2.5zM544.1,436.6h2.5v2.5h-2.5zM544.0,433.7h2.5v2.5h-2.5zM550.8,431.4h2.5v2.5h-2.5zM549.8,428.8h2.5v2.5h-2.5zM546.3,431.0h2.5v2.5h-2.5zM546.6,435.1h2.5v2.5h-2.5zM554.3,429.0h2.5v2.5h-2.5zM544.8,433.0h2.5v2.5h-2.5zM543.1,433.0h2.5v2.5h-2.5zM549.2,430.4h2.5v2.5h-2.5zM549.1,426.1h2.5v2.5h-2.5zM550.4,426.2h2.5v2.5h-2.5zM545.5,429.5h2.5v2.5h-2.5zM547.0,434.4h2.5v2.5h-2.5zM548.6,430.1h2.5v2.5h-2.5zM550.8,436.9h2.5v2.5h-2.5zM548.9,432.8h2.5v2.5h-2.5zM553.7,432.6h2.5v2.5h-2.5zM545.1,440.1h2.5v2.5h-2.5zM557.5,425.0h2.5v2.5h-2.5zM549.9,433.2h2.5v2.5h-2.5zM553.8,434.1h2.5v2.5h-2.5zM549.6,428.3h2.5v2.5h-2.5zM551.4,435.5h2.5v2.5h-2.5zM547.4,428.5h2.5v2.5h-2.5zM551.5,425.5h2.5v2.5h-2.5zM550.7,430.6h2.5v2.5h-2.5zM553.7,429.9h2.5v2.5h-2.5zM549.1,430.9h2.5v2.5h-2.5zM552.5,430.2h2.5v2.5h-2.5zM552.7,435.0h2.5v2.5h-2.5zM557.2,438.4h2.5v2.5h-2.5zM550.5,431.2h2.5v2.5h-2.5zM545.3,439.3h2.5v2.5h-2.5zM551.2,432.7h2.5v2.5h-2.5zM556.0,428.4h2.5v2.5h-2.5zM555.8,432.9h2.5v2.5h-2.5zM548.5,434.2h2.5v2.5h-2.5zM558.8,426.8h2.5v2.5h-2.5zM558.0,434.1h2.5v2.5h-2.5zM556.8,434.9h2.5v2.5h-2.5zM560.2,432.9h2.5v2.5h-2.5zM558.7,432.3h2.5v2.5h-2.5zM558.7,431.1h2.5v2.5h-2.5zM555.8,439.8h2.5v2.5h-2.5zM558.2,433.6h2.5v2.5h-2.5zM552.8,431.5h2.5v2.5h-2.5zM557.8,437.6h2.5v2.5h-2.5zM558.6,436.2h2.5v2.5h-2.5zM557.5,439.3h2.5v2.5h-2.5zM556.3,432.8h2.5v2.5h-2.5zM561.1,435.2h2.5v2.5h-2.5zM557.2,433.0h2.5v2.5h-2.5zM557.7,437.4h2.5v2.5h-2.5zM559.8,431.2h2.5v2.5h-2.5zM560.5,436.2h2.5v2.5h-2.5zM555.6,438.2h2.5v2.5h-2.5zM558.5,434.8h2.5v2.5h-2.5zM562.2,440.4h2.5v2.5h-2.5zM557.6,437.7h2.5v2.5h-2.5zM557.0,444.1h2.5v2.5h-2.5zM558.7,440.6h2.5v2.5h-2.5zM558.2,439.3h2.5v2.5h-2.5zM568.3,428.3h2.5v2.5h-2.5zM559.3,438.6h2.5v2.5h-2.5zM560.9,435.0h2.5v2.5h-2.5zM568.5,437.6h2.5v2.5h-2.5zM556.0,440.6h2.5v2.5h-2.5zM555.8,441.6h2.5v2.5h-2.5zM560.0,438.5h2.5v2.5h-2.5zM566.3,438.4h2.5v2.5h-2.5zM557.7,432.7h2.5v2.5h-2.5zM566.4,440.9h2.5v2.5h-2.5zM560.0,441.7h2.5v2.5h-2.5zM564.5,441.0h2.5v2.5h-2.5zM555.5,438.2h2.5v2.5h-2.5zM566.2,441.7h2.5v2.5h-2.5zM566.5,431.3h2.5v2.5h-2.5zM564.1,441.3h2.5v2.5h-2.5zM572.5,436.8h2.5v2.5h-2.5zM562.7,440.2h2.5v2.5h-2.5zM567.2,439.0h2.5v2.5h-2.5zM568.1,437.8h2.5v2.5h-2.5zM565.4,439.1h2.5v2.5h-2.5zM565.1,438.6h2.5v2.5h-2.5zM559.4,445.1h2.5v2.5h-2.5zM565.9,439.5h2.5v2.5h-2.5zM565.8,445.2h2.5v2.5h-2.5zM561.8,441.5h2.5v2.5h-2.5zM567.3,444.1h2.5v2.5h-2.5zM564.3,435.1h2.5v2.5h-2.5zM569.9,443.9h2.5v2.5h-2.5zM565.8,441.8h2.5v2.5h-2.5zM566.9,441.8h2.5v2.5h-2.5zM562.5,440.7h2.5v2.5h-2.5zM564.2,441.7h2.5v2.5h-2.5zM562.3,445.9h2.5v2.5h-2.5zM562.0,446.5h2.5v2.5h-2.5zM563.0,445.4h2.5v2.5h-2.5zM571.4,445.4h2.5v2.5h-2.5zM564.2,444.9h2.5v2.5h-2.5zM567.4,439.4h2.5v2.5h-2.5zM564.9,445.8h2.5v2.5h-2.5zM565.5,446.0h2.5v2.5h-2.5zM569.6,448.4h2.5v2.5h-2.5zM570.4,448.3h2.5v2.5h-2.5zM566.4,446.2h2.5v2.5h-2.5zM566.6,445.7h2.5v2.5h-2.5zM566.9,440.9h2.5v2.5h-2.5zM566.5,447.2h2.5v2.5h-2.5zM564.4,447.2h2.5v2.5h-2.5zM569.6,447.3h2.5v2.5h-2.5zM574.9,439.0h2.5v2.5h-2.5zM567.3,442.2h2.5v2.5h-2.5zM571.3,457.4h2.5v2.5h-2.5zM559.6,449.4h2.5v2.5h-2.5zM569.8,447.9h2.5v2.5h-2.5zM570.1,441.8h2.5v2.5h-2.5zM571.1,450.7h2.5v2.5h-2.5zM568.4,448.0h2.5v2.5h-2.5zM570.5,448.3h2.5v2.5h-2.5zM569.1,448.8h2.5v2.5h-2.5zM560.7,450.4h2.5v2.5h-2.5zM569.1,453.7h2.5v2.5h-2.5zM565.5,451.0h2.5v2.5h-2.5zM570.6,452.1h2.5v2.5h-2.5zM572.7,458.4h2.5v2.5h-2.5zM565.4,445.7h2.5v2.5h-2.5zM571.4,457.4h2.5v2.5h-2.5zM571.7,455.5h2.5v2.5h-2.5zM566.4,450.3h2.5v2.5h-2.5zM554.7,435.9h2.5v2.5h-2.5zM551.5,482.4h2.5v2.5h-2.5zM547.9,425.2h2.5v2.5h-2.5zM551.9,430.8h2.5v2.5h-2.5zM537.8,434.3h2.5v2.5h-2.5zM527.5,469.8h2.5v2.5h-2.5zM562.2,473.1h2.5v2.5h-2.5zM515.0,424.8h2.5v2.5h-2.5zM526.6,427.7h2.5v2.5h-2.5zM528.9,469.5h2.5v2.5h-2.5zM553.2,438.3h2.5v2.5h-2.5zM567.7,469.0h2.5v2.5h-2.5zM565.3,465.2h2.5v2.5h-2.5zM534.9,439.9h2.5v2.5h-2.5zM518.7,464.6h2.5v2.5h-2.5zM546.0,483.9h2.5v2.5h-2.5zM567.1,445.2h2.5v2.5h-2.5zM519.9,449.7h2.5v2.5h-2.5zM553.1,458.8h2.5v2.5h-2.5zM517.9,451.8h2.5v2.5h-2.5zM579.7,460.2h2.5v2.5h-2.5zM529.4,428.0h2.5v2.5h-2.5zM568.2,463.0h2.5v2.5h-2.5zM566.5,465.2h2.5v2.5h-2.5zM529.9,472.2h2.5v2.5h-2.5z" fill="#ee1111"/>
<path d="M531.5,447.1h2.5v2.5h-2.5zM533.1,444.1h2.5v2.5h-2.5zM532.8,443.1h2.5v2.5h-2.5zM532.9,442.3h2.5v2.5h-2.5zM530.7,441.1h2.5v2.5h-2.5zM529.8,443.6h2.5v2.5h-2.5zM534.3,447.1h2.5v2.5h-2.5zM534.2,444.2h2.5v2.5h-2.5zM535.2,444.2h2.5v2.5h-2.5zM529.8,446.5h2.5v2.5h-2.5zM533.5,445.2h2.5v2.5h-2.5zM533.9,451.0h2.5v2.5h-2.5zM537.7,446.2h2.5v2.5h-2.5zM532.8,447.2h2.5v2.5h-2.5zM534.0,448.4h2.5v2.5h-2.5zM532.7,445.7h2.5v2.5h-2.5zM538.7,444.6h2.5v2.5h-2.5zM536.9,446.8h2.5v2.5h-2.5zM539.4,445.9h2.5v2.5h-2.5zM538.9,451.5h2.5v2.5h-2.5zM534.8,445.7h2.5v2.5h-2.5zM539.1,446.1h2.5v2.5h-2.5zM535.8,451.3h2.5v2.5h-2.5zM540.9,450.6h2.5v2.5h-2.5zM541.8,450.3h2.5v2.5h-2.5zM537.7,443.5h2.5v2.5h-2.5zM541.3,447.0h2.5v2.5h-2.5zM540.3,450.2h2.5v2.5h-2.5zM538.1,449.1h2.5v2.5h-2.5zM544.7,451.6h2.5v2.5h-2.5zM538.0,450.0h2.5v2.5h-2.5zM541.6,451.7h2.5v2.5h-2.5zM543.9,450.9h2.5v2.5h-2.5zM541.8,452.9h2.5v2.5h-2.5zM539.8,454.1h2.5v2.5h-2.5zM543.7,450.5h2.5v2.5h-2.5zM542.4,452.7h2.5v2.5h-2.5zM540.4,447.0h2.5v2.5h-2.5zM545.2,455.9h2.5v2.5h-2.5zM544.0,452.8h2.5v2.5h-2.5zM545.0,451.1h2.5v2.5h-2.5zM545.9,455.0h2.5v2.5h-2.5zM545.7,455.7h2.5v2.5h-2.5zM543.4,454.3h2.5v2.5h-2.5zM544.7,453.2h2.5v2.5h-2.5zM546.9,454.6h2.5v2.5h-2.5zM548.9,456.3h2.5v2.5h-2.5zM544.5,457.6h2.5v2.5h-2.5zM544.3,455.1h2.5v2.5h-2.5zM548.4,455.2h2.5v2.5h-2.5zM549.5,455.9h2.5v2.5h-2.5zM546.3,457.6h2.5v2.5h-2.5zM549.0,454.4h2.5v2.5h-2.5zM549.2,456.3h2.5v2.5h-2.5zM550.5,455.7h2.5v2.5h-2.5zM550.1,456.5h2.5v2.5h-2.5zM553.9,456.7h2.5v2.5h-2.5zM553.2,457.3h2.5v2.5h-2.5zM553.6,463.0h2.5v2.5h-2.5zM550.3,458.3h2.5v2.5h-2.5zM549.9,457.1h2.5v2.5h-2.5zM550.7,458.8h2.5v2.5h-2.5zM554.6,461.0h2.5v2.5h-2.5zM551.5,459.4h2.5v2.5h-2.5zM550.2,460.9h2.5v2.5h-2.5zM552.8,457.4h2.5v2.5h-2.5zM552.4,461.5h2.5v2.5h-2.5zM554.2,461.6h2.5v2.5h-2.5zM553.8,461.1h2.5v2.5h-2.5zM554.2,457.5h2.5v2.5h-2.5zM555.1,461.1h2.5v2.5h-2.5zM553.9,463.0h2.5v2.5h-2.5zM560.7,464.9h2.5v2.5h-2.5zM556.2,459.4h2.5v2.5h-2.5zM556.4,461.1h2.5v2.5h-2.5zM557.2,465.0h2.5v2.5h-2.5zM557.4,460.0h2.5v2.5h-2.5zM560.4,463.1h2.5v2.5h-2.5zM561.2,461.7h2.5v2.5h-2.5zM563.6,461.0h2.5v2.5h-2.5zM559.2,465.9h2.5v2.5h-2.5zM553.4,462.4h2.5v2.5h-2.5zM556.3,468.3h2.5v2.5h-2.5zM561.2,462.6h2.5v2.5h-2.5zM555.4,460.5h2.5v2.5h-2.5zM559.5,462.5h2.5v2.5h-2.5zM559.2,462.6h2.5v2.5h-2.5zM554.8,467.6h2.5v2.5h-2.5zM558.8,461.7h2.5v2.5h-2.5zM557.0,466.0h2.5v2.5h-2.5zM558.8,459.9h2.5v2.5h-2.5zM560.1,461.3h2.5v2.5h-2.5zM557.5,459.5h2.5v2.5h-2.5zM554.9,463.7h2.5v2.5h-2.5zM553.0,461.6h2.5v2.5h-2.5zM556.5,460.1h2.5v2.5h-2.5zM558.0,462.4h2.5v2.5h-2.5zM554.6,463.1h2.5v2.5h-2.5zM557.1,463.0h2.5v2.5h-2.5zM553.9,462.1h2.5v2.5h-2.5zM554.3,457.5h2.5v2.5h-2.5zM552.7,464.2h2.5v2.5h-2.5zM551.1,460.3h2.5v2.5h-2.5zM556.4,458.5h2.5v2.5h-2.5zM552.0,457.1h2.5v2.5h-2.5zM553.1,456.1h2.5v2.5h-2.5zM552.3,456.4h2.5v2.5h-2.5zM552.1,454.5h2.5v2.5h-2.5zM548.3,459.6h2.5v2.5h-2.5zM551.9,451.1h2.5v2.5h-2.5zM553.2,455.3h2.5v2.5h-2.5zM551.8,459.2h2.5v2.5h-2.5zM548.9,455.7h2.5v2.5h-2.5zM545.1,457.5h2.5v2.5h-2.5zM552.5,453.3h2.5v2.5h-2.5zM550.9,457.5h2.5v2.5h-2.5zM549.8,453.1h2.5v2.5h-2.5zM547.5,455.9h2.5v2.5h-2.5zM550.7,452.8h2.5v2.5h-2.5zM545.9,453.2h2.5v2.5h-2.5zM548.2,450.9h2.5v2.5h-2.5zM545.9,451.5h2.5v2.5h-2.5zM544.9,455.3h2.5v2.5h-2.5zM544.5,455.2h2.5v2.5h-2.5zM543.9,453.0h2.5v2.5h-2.5zM544.6,451.3h2.5v2.5h-2.5zM545.1,454.0h2.5v2.5h-2.5zM542.5,454.0h2.5v2.5h-2.5zM543.8,451.1h2.5v2.5h-2.5zM543.9,453.8h2.5v2.5h-2.5zM544.4,454.6h2.5v2.5h-2.5zM543.4,451.9h2.5v2.5h-2.5zM539.0,449.7h2.5v2.5h-2.5zM543.4,448.5h2.5v2.5h-2.5zM539.5,454.2h2.5v2.5h-2.5zM541.3,447.9h2.5v2.5h-2.5zM536.2,447.9h2.5v2.5h-2.5zM545.6,449.7h2.5v2.5h-2.5zM541.3,450.6h2.5v2.5h-2.5zM539.0,449.9h2.5v2.5h-2.5zM539.5,447.9h2.5v2.5h-2.5zM541.5,446.8h2.5v2.5h-2.5zM537.1,446.6h2.5v2.5h-2.5zM541.2,447.0h2.5v2.5h-2.5zM541.8,444.6h2.5v2.5h-2.5zM535.9,441.8h2.5v2.5h-2.5zM535.3,447.0h2.5v2.5h-2.5zM538.7,444.8h2.5v2.5h-2.5zM535.4,449.3h2.5v2.5h-2.5zM535.5,446.5h2.5v2.5h-2.5zM537.2,443.7h2.5v2.5h-2.5zM538.4,445.3h2.5v2.5h-2.5zM536.8,444.6h2.5v2.5h-2.5zM535.7,447.7h2.5v2.5h-2.5zM534.9,440.8h2.5v2.5h-2.5zM533.8,443.8h2.5v2.5h-2.5zM533.3,444.5h2.5v2.5h-2.5zM530.3,447.8h2.5v2.5h-2.5zM531.2,446.2h2.5v2.5h-2.5zM532.2,442.8h2.5v2.5h-2.5zM532.0,442.2h2.5v2.5h-2.5zM533.5,445.5h2.5v2.5h-2.5zM535.4,446.3h2.5v2.5h-2.5zM529.0,443.8h2.5v2.5h-2.5zM531.9,441.7h2.5v2.5h-2.5zM531.5,441.9h2.5v2.5h-2.5z" fill="#ee1111"/>
<circle cx="545.8" cy="453.0" r="85.0" fill="none" stroke="#111" stroke-width="1.3"/>
<circle cx="545.8" cy="453.0" r="21.5" fill="none" stroke="#111" stroke-width="1.3"/>
</g>
<text x="63.57" y="33.50" style="font-family:&quot;Liberation Sans&quot;,sans-serif;font-size:28.5px;stroke:#1a1a1a;stroke-width:0.35px;font-weight:bold;font-style:italic;" fill="#1a1a1a">f</text>
<text transform="translate(74.80,45.00) scale(0.850,1)" x="-1.15" y="0" style="font-family:&quot;Liberation Sans&quot;,sans-serif;font-size:29.5px;stroke:#1a1a1a;stroke-width:0.35px;" fill="#1a1a1a">0</text>
<path d="M92.4,19.9H105.8v2.5H92.4z M92.4,25.1H105.8v2.5H92.4z" fill="#1a1a1a"/>
<text transform="translate(118.00,33.30) scale(0.850,1)" x="-1.15" y="0" style="font-family:&quot;Liberation Sans&quot;,sans-serif;font-size:29.5px;stroke:#1a1a1a;stroke-width:0.35px;" fill="#1a1a1a">0</text>
<text x="129.21" y="16.10" style="font-family:&quot;Liberation Sans&quot;,sans-serif;font-size:26px;stroke:#1a1a1a;stroke-width:0.8px;" fill="#1a1a1a">o</text>
<text x="578.17" y="36.00" style="font-family:&quot;Liberation Sans&quot;,sans-serif;font-size:28.5px;stroke:#1a1a1a;stroke-width:0.35px;font-weight:bold;font-style:italic;" fill="#1a1a1a">f</text>
<text transform="translate(590.30,48.40) scale(0.850,1)" x="-1.15" y="0" style="font-family:&quot;Liberation Sans&quot;,sans-serif;font-size:29.5px;stroke:#1a1a1a;stroke-width:0.35px;" fill="#1a1a1a">0</text>
<path d="M605.8,22.5H620.3v2.5H605.8z M605.8,28.3H620.3v2.5H605.8z" fill="#1a1a1a"/>
<path d="M631.65,16.20V35.90" stroke="#1a1a1a" stroke-width="2.50" fill="none"/>
<path d="M631.95,16.90L627.70,21.52" stroke="#1a1a1a" stroke-width="2.88" fill="none" stroke-linecap="butt"/>
<text transform="translate(640.60,35.90) scale(0.850,1)" x="-1.27" y="0" style="font-family:&quot;Liberation Sans&quot;,sans-serif;font-size:29.5px;stroke:#1a1a1a;stroke-width:0.35px;" fill="#1a1a1a">8</text>
<text transform="translate(656.00,35.90) scale(0.850,1)" x="-1.15" y="0" style="font-family:&quot;Liberation Sans&quot;,sans-serif;font-size:29.5px;stroke:#1a1a1a;stroke-width:0.35px;" fill="#1a1a1a">0</text>
<text x="668.41" y="20.30" style="font-family:&quot;Liberation Sans&quot;,sans-serif;font-size:26px;stroke:#1a1a1a;stroke-width:0.8px;" fill="#1a1a1a">o</text>
<text x="83.57" y="331.00" style="font-family:&quot;Liberation Sans&quot;,sans-serif;font-size:28.5px;stroke:#1a1a1a;stroke-width:0.35px;font-weight:bold;font-style:italic;" fill="#1a1a1a">f</text>
<text transform="translate(95.20,343.20) scale(0.850,1)" x="-1.15" y="0" style="font-family:&quot;Liberation Sans&quot;,sans-serif;font-size:29.5px;stroke:#1a1a1a;stroke-width:0.35px;" fill="#1a1a1a">0</text>
<path d="M112.4,318.2H125.8v2.5H112.4z M112.4,323.8H125.8v2.5H112.4z" fill="#1a1a1a"/>
<text transform="translate(137.40,330.80) scale(0.850,1)" x="-1.15" y="0" style="font-family:&quot;Liberation Sans&quot;,sans-serif;font-size:29.5px;stroke:#1a1a1a;stroke-width:0.35px;" fill="#1a1a1a">0</text>
<text x="149.21" y="313.90" style="font-family:&quot;Liberation Sans&quot;,sans-serif;font-size:26px;stroke:#1a1a1a;stroke-width:0.8px;" fill="#1a1a1a">o</text>
<text x="569.47" y="329.20" style="font-family:&quot;Liberation Sans&quot;,sans-serif;font-size:28.5px;stroke:#1a1a1a;stroke-width:0.35px;font-weight:bold;font-style:italic;" fill="#1a1a1a">f</text>
<text transform="translate(580.00,342.00) scale(0.850,1)" x="-1.15" y="0" style="font-family:&quot;Liberation Sans&quot;,sans-serif;font-size:29.5px;stroke:#1a1a1a;stroke-width:0.35px;" fill="#1a1a1a">0</text>
<path d="M596.8,317.0H610.4v2.5H596.8z M596.8,322.3H610.4v2.5H596.8z" fill="#1a1a1a"/>
<path d="M621.35,309.70V329.10" stroke="#1a1a1a" stroke-width="2.50" fill="none"/>
<path d="M621.65,310.40L616.80,314.94" stroke="#1a1a1a" stroke-width="2.88" fill="none" stroke-linecap="butt"/>
<text transform="translate(631.80,329.10) scale(0.850,1)" x="-1.27" y="0" style="font-family:&quot;Liberation Sans&quot;,sans-serif;font-size:29.5px;stroke:#1a1a1a;stroke-width:0.35px;" fill="#1a1a1a">8</text>
<text transform="translate(646.60,329.10) scale(0.850,1)" x="-1.15" y="0" style="font-family:&quot;Liberation Sans&quot;,sans-serif;font-size:29.5px;stroke:#1a1a1a;stroke-width:0.35px;" fill="#1a1a1a">0</text>
<text x="659.41" y="314.00" style="font-family:&quot;Liberation Sans&quot;,sans-serif;font-size:26px;stroke:#1a1a1a;stroke-width:0.8px;" fill="#1a1a1a">o</text>
<text x="344.62" y="34.50" style="font-family:&quot;Liberation Sans&quot;,sans-serif;font-size:28px;stroke:#1a1a1a;stroke-width:0.35px;" fill="#1a1a1a">direct</text>
<text x="309.11" y="329.60" style="font-family:&quot;Liberation Sans&quot;,sans-serif;font-size:28.6px;stroke:#1a1a1a;stroke-width:0.35px;" fill="#1a1a1a">retrograde</text>
<text x="38.24" y="77.30" style="font-family:&quot;Liberation Sans&quot;,sans-serif;font-size:27px;stroke:#1a1a1a;stroke-width:0.1px;" fill="#1a1a1a">2</text>
<text x="37.94" y="165.40" style="font-family:&quot;Liberation Sans&quot;,sans-serif;font-size:27px;stroke:#1a1a1a;stroke-width:0.1px;" fill="#1a1a1a">0</text>
<text x="28.41" y="253.40" style="font-family:&quot;Liberation Sans&quot;,sans-serif;font-size:27px;stroke:#1a1a1a;stroke-width:0.1px;" fill="#1a1a1a">-</text>
<text x="38.24" y="253.40" style="font-family:&quot;Liberation Sans&quot;,sans-serif;font-size:27px;stroke:#1a1a1a;stroke-width:0.1px;" fill="#1a1a1a">2</text>
<text x="104.61" y="284.40" style="font-family:&quot;Liberation Sans&quot;,sans-serif;font-size:27px;stroke:#1a1a1a;stroke-width:0.1px;" fill="#1a1a1a">-</text>
<text x="120.25" y="284.40" style="font-family:&quot;Liberation Sans&quot;,sans-serif;font-size:27px;stroke:#1a1a1a;stroke-width:0.1px;" fill="#1a1a1a">2</text>
<text x="202.65" y="285.50" style="font-family:&quot;Liberation Sans&quot;,sans-serif;font-size:27px;stroke:#1a1a1a;stroke-width:0.1px;" fill="#1a1a1a">0</text>
<text x="289.75" y="282.30" style="font-family:&quot;Liberation Sans&quot;,sans-serif;font-size:27px;stroke:#1a1a1a;stroke-width:0.1px;" fill="#1a1a1a">2</text>
<text x="380.94" y="77.20" style="font-family:&quot;Liberation Sans&quot;,sans-serif;font-size:27px;stroke:#1a1a1a;stroke-width:0.1px;" fill="#1a1a1a">2</text>
<text x="380.34" y="165.30" style="font-family:&quot;Liberation Sans&quot;,sans-serif;font-size:27px;stroke:#505050;stroke-width:0.0px;" fill="#505050">0</text>
<text x="372.31" y="253.40" style="font-family:&quot;Liberation Sans&quot;,sans-serif;font-size:27px;stroke:#1a1a1a;stroke-width:0.1px;" fill="#1a1a1a">-</text>
<text x="381.24" y="253.40" style="font-family:&quot;Liberation Sans&quot;,sans-serif;font-size:27px;stroke:#1a1a1a;stroke-width:0.1px;" fill="#1a1a1a">2</text>
<text x="440.51" y="285.40" style="font-family:&quot;Liberation Sans&quot;,sans-serif;font-size:27px;stroke:#1a1a1a;stroke-width:0.1px;" fill="#1a1a1a">-</text>
<text x="449.45" y="285.40" style="font-family:&quot;Liberation Sans&quot;,sans-serif;font-size:27px;stroke:#1a1a1a;stroke-width:0.1px;" fill="#1a1a1a">2</text>
<text x="533.25" y="285.40" style="font-family:&quot;Liberation Sans&quot;,sans-serif;font-size:27px;stroke:#1a1a1a;stroke-width:0.1px;" fill="#1a1a1a">0</text>
<text x="620.65" y="285.40" style="font-family:&quot;Liberation Sans&quot;,sans-serif;font-size:27px;stroke:#1a1a1a;stroke-width:0.1px;" fill="#1a1a1a">2</text>
<path d="M64.05,386.40V405.40" stroke="#1a1a1a" stroke-width="2.50" fill="none"/>
<path d="M64.35,387.10L59.10,391.53" stroke="#1a1a1a" stroke-width="2.88" fill="none" stroke-linecap="butt"/>
<text x="53.94" y="461.40" style="font-family:&quot;Liberation Sans&quot;,sans-serif;font-size:27px;stroke:#1a1a1a;stroke-width:0.1px;" fill="#1a1a1a">0</text>
<text x="45.41" y="519.40" style="font-family:&quot;Liberation Sans&quot;,sans-serif;font-size:27px;stroke:#1a1a1a;stroke-width:0.1px;" fill="#1a1a1a">-</text>
<path d="M64.05,501.60V519.40" stroke="#1a1a1a" stroke-width="2.50" fill="none"/>
<path d="M64.35,502.30L59.10,506.41" stroke="#1a1a1a" stroke-width="2.88" fill="none" stroke-linecap="butt"/>
<text x="80.41" y="583.40" style="font-family:&quot;Liberation Sans&quot;,sans-serif;font-size:27px;stroke:#1a1a1a;stroke-width:0.1px;" fill="#1a1a1a">-</text>
<text x="88.55" y="583.40" style="font-family:&quot;Liberation Sans&quot;,sans-serif;font-size:27px;stroke:#1a1a1a;stroke-width:0.1px;" fill="#1a1a1a">2</text>
<text x="200.45" y="583.20" style="font-family:&quot;Liberation Sans&quot;,sans-serif;font-size:27px;stroke:#1a1a1a;stroke-width:0.1px;" fill="#1a1a1a">0</text>
<text x="314.15" y="583.40" style="font-family:&quot;Liberation Sans&quot;,sans-serif;font-size:27px;stroke:#1a1a1a;stroke-width:0.1px;" fill="#1a1a1a">2</text>
<path d="M402.75,386.40V405.50" stroke="#1a1a1a" stroke-width="2.50" fill="none"/>
<path d="M403.05,387.10L397.80,391.56" stroke="#1a1a1a" stroke-width="2.88" fill="none" stroke-linecap="butt"/>
<text x="392.94" y="463.60" style="font-family:&quot;Liberation Sans&quot;,sans-serif;font-size:27px;stroke:#1a1a1a;stroke-width:0.1px;" fill="#1a1a1a">0</text>
<text x="386.81" y="521.40" style="font-family:&quot;Liberation Sans&quot;,sans-serif;font-size:27px;stroke:#1a1a1a;stroke-width:0.1px;" fill="#1a1a1a">-</text>
<path d="M402.75,502.20V521.40" stroke="#1a1a1a" stroke-width="2.50" fill="none"/>
<path d="M403.05,502.90L397.80,507.38" stroke="#1a1a1a" stroke-width="2.88" fill="none" stroke-linecap="butt"/>
<text x="418.61" y="583.50" style="font-family:&quot;Liberation Sans&quot;,sans-serif;font-size:27px;stroke:#1a1a1a;stroke-width:0.1px;" fill="#1a1a1a">-</text>
<text x="427.05" y="583.50" style="font-family:&quot;Liberation Sans&quot;,sans-serif;font-size:27px;stroke:#1a1a1a;stroke-width:0.1px;" fill="#1a1a1a">2</text>
<text x="538.55" y="583.40" style="font-family:&quot;Liberation Sans&quot;,sans-serif;font-size:27px;stroke:#1a1a1a;stroke-width:0.1px;" fill="#1a1a1a">0</text>
<text x="653.25" y="583.40" style="font-family:&quot;Liberation Sans&quot;,sans-serif;font-size:27px;stroke:#1a1a1a;stroke-width:0.1px;" fill="#1a1a1a">2</text>
<text x="131.66" y="610.80" style="font-family:&quot;Liberation Sans&quot;,sans-serif;font-size:28px;stroke:#1a1a1a;stroke-width:0.35px;" fill="#1a1a1a">x</text>
<text x="145.66" y="610.80" style="font-family:&quot;Liberation Sans&quot;,sans-serif;font-size:28px;stroke:#1a1a1a;stroke-width:0.35px;" fill="#1a1a1a">[</text>
<path d="M161.35,591.50V610.80" stroke="#1a1a1a" stroke-width="2.50" fill="none"/>
<path d="M161.65,592.20L157.40,596.71" stroke="#1a1a1a" stroke-width="2.88" fill="none" stroke-linecap="butt"/>
<text transform="translate(170.00,610.80) scale(0.920,1)" x="-1.09" y="0" style="font-family:&quot;Liberation Sans&quot;,sans-serif;font-size:28px;stroke:#1a1a1a;stroke-width:0.35px;" fill="#1a1a1a">0</text>
<text x="184.95" y="598.60" style="font-family:&quot;Liberation Sans&quot;,sans-serif;font-size:20.5px;stroke:#1a1a1a;stroke-width:0.35px;" fill="#1a1a1a">6</text>
<text x="198.62" y="610.80" style="font-family:&quot;Liberation Sans&quot;,sans-serif;font-size:28px;stroke:#1a1a1a;stroke-width:0.35px;" fill="#1a1a1a">k</text>
<text x="213.65" y="610.80" style="font-family:&quot;Liberation Sans&quot;,sans-serif;font-size:28px;stroke:#1a1a1a;stroke-width:0.35px;" fill="#1a1a1a">m</text>
<text x="238.48" y="610.80" style="font-family:&quot;Liberation Sans&quot;,sans-serif;font-size:28px;stroke:#1a1a1a;stroke-width:0.35px;" fill="#1a1a1a">]</text>
<text x="471.26" y="613.40" style="font-family:&quot;Liberation Sans&quot;,sans-serif;font-size:28px;stroke:#1a1a1a;stroke-width:0.35px;" fill="#1a1a1a">x</text>
<text x="485.26" y="613.40" style="font-family:&quot;Liberation Sans&quot;,sans-serif;font-size:28px;stroke:#1a1a1a;stroke-width:0.35px;" fill="#1a1a1a">[</text>
<path d="M500.95,594.10V613.40" stroke="#1a1a1a" stroke-width="2.50" fill="none"/>
<path d="M501.25,594.80L497.00,599.31" stroke="#1a1a1a" stroke-width="2.88" fill="none" stroke-linecap="butt"/>
<text transform="translate(509.60,613.40) scale(0.920,1)" x="-1.09" y="0" style="font-family:&quot;Liberation Sans&quot;,sans-serif;font-size:28px;stroke:#1a1a1a;stroke-width:0.35px;" fill="#1a1a1a">0</text>
<text x="524.55" y="601.20" style="font-family:&quot;Liberation Sans&quot;,sans-serif;font-size:20.5px;stroke:#1a1a1a;stroke-width:0.35px;" fill="#1a1a1a">6</text>
<text x="538.22" y="613.40" style="font-family:&quot;Liberation Sans&quot;,sans-serif;font-size:28px;stroke:#1a1a1a;stroke-width:0.35px;" fill="#1a1a1a">k</text>
<text x="553.25" y="613.40" style="font-family:&quot;Liberation Sans&quot;,sans-serif;font-size:28px;stroke:#1a1a1a;stroke-width:0.35px;" fill="#1a1a1a">m</text>
<text x="578.08" y="613.40" style="font-family:&quot;Liberation Sans&quot;,sans-serif;font-size:28px;stroke:#1a1a1a;stroke-width:0.35px;" fill="#1a1a1a">]</text>
<g transform="translate(30.9,204.1) rotate(-90)">
<text x="-0.08" y="0.00" style="font-family:&quot;Liberation Sans&quot;,sans-serif;font-size:28px;stroke:#1a1a1a;stroke-width:0.35px;" fill="#1a1a1a">y</text>
<text x="13.92" y="0.00" style="font-family:&quot;Liberation Sans&quot;,sans-serif;font-size:28px;stroke:#1a1a1a;stroke-width:0.35px;" fill="#1a1a1a">[</text>
<path d="M29.35,-19.30V0.00" stroke="#1a1a1a" stroke-width="2.50" fill="none"/>
<path d="M29.65,-18.60L25.40,-14.09" stroke="#1a1a1a" stroke-width="2.88" fill="none" stroke-linecap="butt"/>
<text transform="translate(38.00,0.00) scale(0.920,1)" x="-1.09" y="0" style="font-family:&quot;Liberation Sans&quot;,sans-serif;font-size:28px;stroke:#1a1a1a;stroke-width:0.35px;" fill="#1a1a1a">0</text>
<text x="52.95" y="-12.20" style="font-family:&quot;Liberation Sans&quot;,sans-serif;font-size:20.5px;stroke:#1a1a1a;stroke-width:0.35px;" fill="#1a1a1a">6</text>
<text x="66.62" y="0.00" style="font-family:&quot;Liberation Sans&quot;,sans-serif;font-size:28px;stroke:#1a1a1a;stroke-width:0.35px;" fill="#1a1a1a">k</text>
<text x="81.65" y="0.00" style="font-family:&quot;Liberation Sans&quot;,sans-serif;font-size:28px;stroke:#1a1a1a;stroke-width:0.35px;" fill="#1a1a1a">m</text>
<text x="106.48" y="0.00" style="font-family:&quot;Liberation Sans&quot;,sans-serif;font-size:28px;stroke:#1a1a1a;stroke-width:0.35px;" fill="#1a1a1a">]</text>
</g>
<g transform="translate(43.2,506.8) rotate(-90)">
<text x="-0.08" y="0.00" style="font-family:&quot;Liberation Sans&quot;,sans-serif;font-size:28px;stroke:#1a1a1a;stroke-width:0.35px;" fill="#1a1a1a">y</text>
<text x="13.92" y="0.00" style="font-family:&quot;Liberation Sans&quot;,sans-serif;font-size:28px;stroke:#1a1a1a;stroke-width:0.35px;" fill="#1a1a1a">[</text>
<path d="M29.35,-19.30V0.00" stroke="#1a1a1a" stroke-width="2.50" fill="none"/>
<path d="M29.65,-18.60L25.40,-14.09" stroke="#1a1a1a" stroke-width="2.88" fill="none" stroke-linecap="butt"/>
<text transform="translate(38.00,0.00) scale(0.920,1)" x="-1.09" y="0" style="font-family:&quot;Liberation Sans&quot;,sans-serif;font-size:28px;stroke:#1a1a1a;stroke-width:0.35px;" fill="#1a1a1a">0</text>
<text x="52.95" y="-12.20" style="font-family:&quot;Liberation Sans&quot;,sans-serif;font-size:20.5px;stroke:#1a1a1a;stroke-width:0.35px;" fill="#1a1a1a">6</text>
<text x="66.62" y="0.00" style="font-family:&quot;Liberation Sans&quot;,sans-serif;font-size:28px;stroke:#1a1a1a;stroke-width:0.35px;" fill="#1a1a1a">k</text>
<text x="81.65" y="0.00" style="font-family:&quot;Liberation Sans&quot;,sans-serif;font-size:28px;stroke:#1a1a1a;stroke-width:0.35px;" fill="#1a1a1a">m</text>
<text x="106.48" y="0.00" style="font-family:&quot;Liberation Sans&quot;,sans-serif;font-size:28px;stroke:#1a1a1a;stroke-width:0.35px;" fill="#1a1a1a">]</text>
</g>
</svg>
</body></html>
